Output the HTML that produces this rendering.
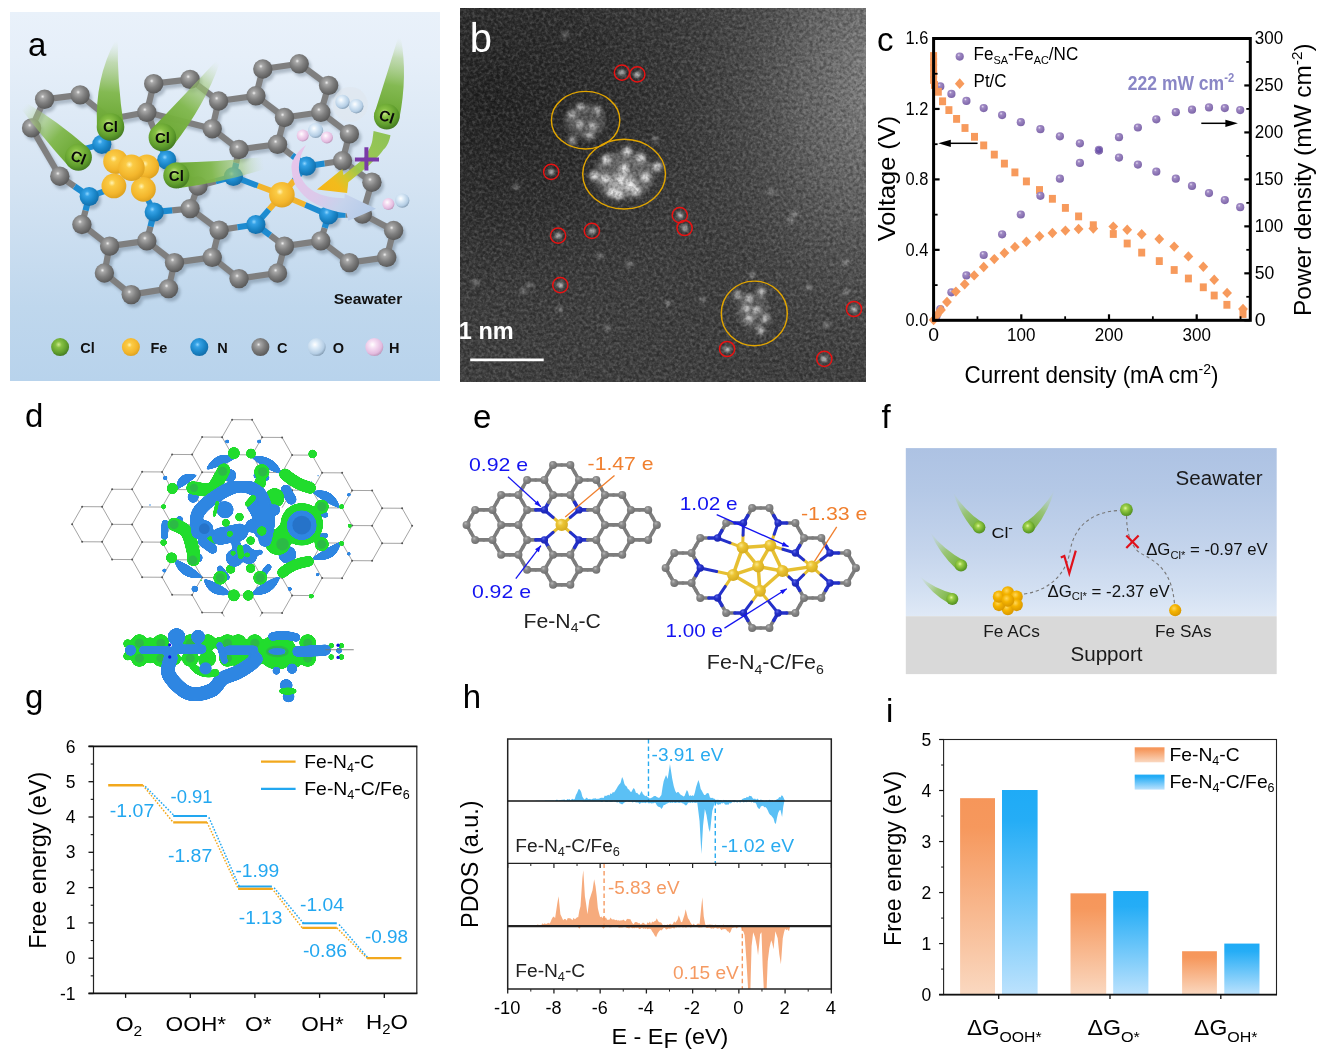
<!DOCTYPE html>
<html lang="en"><head><meta charset="utf-8"><title>Figure</title>
<style>
html,body{margin:0;padding:0;background:#fff;}
body{width:1328px;height:1064px;overflow:hidden;}
svg{display:block;font-family:'Liberation Sans', Arial, sans-serif;}
</style></head><body>
<svg width="1328" height="1064" viewBox="0 0 1328 1064">
<defs>
<linearGradient id="abg" x1="0" y1="0" x2="0" y2="1"><stop offset="0" stop-color="#e9f1fa"/><stop offset="0.12" stop-color="#e6eff9"/><stop offset="0.45" stop-color="#d5e4f3"/><stop offset="0.8" stop-color="#bfd7ed"/><stop offset="1" stop-color="#b8d3ec"/></linearGradient>
<radialGradient id="aC" cx="40%" cy="36%" r="68%"><stop offset="0" stop-color="#f0f0f0"/><stop offset="0.15" stop-color="#a8a8a8"/><stop offset="0.5" stop-color="#808080"/><stop offset="1" stop-color="#555555"/></radialGradient>
<radialGradient id="aN" cx="40%" cy="36%" r="68%"><stop offset="0" stop-color="#8fd6ff"/><stop offset="0.2" stop-color="#35a2e6"/><stop offset="0.6" stop-color="#1a86c8"/><stop offset="1" stop-color="#116aa6"/></radialGradient>
<radialGradient id="aFe" cx="42%" cy="38%" r="68%"><stop offset="0" stop-color="#fff4b4"/><stop offset="0.2" stop-color="#fbcb45"/><stop offset="0.65" stop-color="#f3b62c"/><stop offset="1" stop-color="#d89c1c"/></radialGradient>
<radialGradient id="aCl" cx="42%" cy="36%" r="68%"><stop offset="0" stop-color="#cfe98f"/><stop offset="0.25" stop-color="#86c043"/><stop offset="0.7" stop-color="#5e9c2c"/><stop offset="1" stop-color="#3f7420"/></radialGradient>
<radialGradient id="aO" cx="40%" cy="36%" r="68%"><stop offset="0" stop-color="#ffffff"/><stop offset="0.3" stop-color="#dcebf8"/><stop offset="0.75" stop-color="#b4cde4"/><stop offset="1" stop-color="#7d95ab"/></radialGradient>
<radialGradient id="aH" cx="40%" cy="36%" r="68%"><stop offset="0" stop-color="#ffffff"/><stop offset="0.3" stop-color="#f6def3"/><stop offset="0.75" stop-color="#e3bbdf"/><stop offset="1" stop-color="#b791b4"/></radialGradient>
<filter id="ash" x="-30%" y="-30%" width="160%" height="160%"><feGaussianBlur stdDeviation="1.6"/></filter>
<linearGradient id="at1" x1="110.5" y1="127" x2="116.5" y2="41" gradientUnits="userSpaceOnUse"><stop offset="0" stop-color="#68a52f" stop-opacity="1"/><stop offset="0.4" stop-color="#7fb74a" stop-opacity="0.95"/><stop offset="0.75" stop-color="#a3c97a" stop-opacity="0.55"/><stop offset="1" stop-color="#cfe3bf" stop-opacity="0.0"/></linearGradient>
<linearGradient id="at2" x1="162.4" y1="137.4" x2="218" y2="62" gradientUnits="userSpaceOnUse"><stop offset="0" stop-color="#68a52f" stop-opacity="1"/><stop offset="0.4" stop-color="#7fb74a" stop-opacity="0.95"/><stop offset="0.75" stop-color="#a3c97a" stop-opacity="0.55"/><stop offset="1" stop-color="#cfe3bf" stop-opacity="0.0"/></linearGradient>
<linearGradient id="at3" x1="78.4" y1="157.3" x2="24" y2="106" gradientUnits="userSpaceOnUse"><stop offset="0" stop-color="#68a52f" stop-opacity="1"/><stop offset="0.4" stop-color="#7fb74a" stop-opacity="0.95"/><stop offset="0.75" stop-color="#a3c97a" stop-opacity="0.55"/><stop offset="1" stop-color="#cfe3bf" stop-opacity="0.0"/></linearGradient>
<linearGradient id="at4" x1="176.3" y1="175.5" x2="264" y2="163" gradientUnits="userSpaceOnUse"><stop offset="0" stop-color="#68a52f" stop-opacity="1"/><stop offset="0.4" stop-color="#7fb74a" stop-opacity="0.95"/><stop offset="0.75" stop-color="#a3c97a" stop-opacity="0.55"/><stop offset="1" stop-color="#cfe3bf" stop-opacity="0.0"/></linearGradient>
<linearGradient id="at5" x1="386.7" y1="116.6" x2="399.5" y2="38" gradientUnits="userSpaceOnUse"><stop offset="0" stop-color="#68a52f" stop-opacity="1"/><stop offset="0.4" stop-color="#7fb74a" stop-opacity="0.95"/><stop offset="0.75" stop-color="#a3c97a" stop-opacity="0.55"/><stop offset="1" stop-color="#cfe3bf" stop-opacity="0.0"/></linearGradient>
<linearGradient id="aar" x1="385" y1="132" x2="318" y2="190" gradientUnits="userSpaceOnUse"><stop offset="0" stop-color="#8cc152" stop-opacity="0.97"/><stop offset="0.5" stop-color="#9cc84c" stop-opacity="0.97"/><stop offset="0.68" stop-color="#d6c62c" stop-opacity="1"/><stop offset="0.8" stop-color="#f2bb1c" stop-opacity="1"/><stop offset="1" stop-color="#f5b61a" stop-opacity="1"/></linearGradient>
<linearGradient id="acv" x1="300" y1="145" x2="376" y2="209" gradientUnits="userSpaceOnUse"><stop offset="0" stop-color="#e9c4ea" stop-opacity="1"/><stop offset="0.45" stop-color="#dcc9ea" stop-opacity="1"/><stop offset="0.7" stop-color="#c6d3ec" stop-opacity="1"/><stop offset="1" stop-color="#b4cbe9" stop-opacity="1"/></linearGradient>
<clipPath id="bclip"><rect x="460" y="8" width="406" height="374"/></clipPath>
<filter id="bnoise" x="0" y="0" width="100%" height="100%" color-interpolation-filters="sRGB"><feTurbulence type="fractalNoise" baseFrequency="0.33" numOctaves="2" seed="7" result="n"/><feColorMatrix type="matrix" values="0 0 0 0 1  0 0 0 0 1  0 0 0 0 1  2.6 0 0 0 -1.0"/></filter>
<filter id="bnoise2" x="0" y="0" width="100%" height="100%" color-interpolation-filters="sRGB"><feTurbulence type="fractalNoise" baseFrequency="0.3" numOctaves="2" seed="23" result="n"/><feColorMatrix type="matrix" values="0 0 0 0 0  0 0 0 0 0  0 0 0 0 0  0 2.6 0 0 -1.0"/></filter>
<filter id="bblur" x="-50%" y="-50%" width="200%" height="200%"><feGaussianBlur stdDeviation="2.2"/></filter>
<filter id="bblur2" x="-50%" y="-50%" width="200%" height="200%"><feGaussianBlur stdDeviation="1.4"/></filter>
<radialGradient id="bg1" cx="1.04" cy="0.2" r="0.52" gradientTransform="translate(0 0.2) scale(1 1.7) translate(0 -0.2)"><stop offset="0" stop-color="#8c8c8c"/><stop offset="0.4" stop-color="#707070" stop-opacity="0.72"/><stop offset="1" stop-color="#444" stop-opacity="0"/></radialGradient>
<radialGradient id="bg2" cx="0.08" cy="0.25" r="0.62"><stop offset="0" stop-color="#1c1c1c" stop-opacity="0.85"/><stop offset="0.5" stop-color="#222" stop-opacity="0.55"/><stop offset="1" stop-color="#333" stop-opacity="0"/></radialGradient>
<radialGradient id="gpur" cx="38%" cy="32%" r="70%"><stop offset="0" stop-color="#e6def2"/><stop offset="0.25" stop-color="#a08ac4"/><stop offset="1" stop-color="#7c64a8"/></radialGradient>
<filter id="goo" x="-5%" y="-5%" width="110%" height="110%" color-interpolation-filters="sRGB"><feGaussianBlur stdDeviation="1.1" result="b"/><feColorMatrix in="b" type="matrix" values="1 0 0 0 0  0 1 0 0 0  0 0 1 0 0  0 0 0 9 -3.0"/></filter>
<clipPath id="dclip"><rect x="60" y="410" width="370" height="206.5"/></clipPath>
<radialGradient id="gC" cx="38%" cy="32%" r="70%"><stop offset="0" stop-color="#b4b4b4"/><stop offset="0.35" stop-color="#8a8a8a"/><stop offset="1" stop-color="#6e6e6e"/></radialGradient>
<radialGradient id="gN" cx="38%" cy="32%" r="70%"><stop offset="0" stop-color="#5a66e8"/><stop offset="0.4" stop-color="#2430c8"/><stop offset="1" stop-color="#1a24b0"/></radialGradient>
<radialGradient id="gFe" cx="38%" cy="32%" r="70%"><stop offset="0" stop-color="#fbe88a"/><stop offset="0.35" stop-color="#ecc534"/><stop offset="1" stop-color="#d4aa1e"/></radialGradient>
<linearGradient id="fbg" x1="0" y1="0" x2="0" y2="1"><stop offset="0" stop-color="#adc2e3"/><stop offset="0.25" stop-color="#b4c8e6"/><stop offset="0.6" stop-color="#c4d4ec"/><stop offset="0.85" stop-color="#d3e0f2"/><stop offset="1" stop-color="#dfe9f6"/></linearGradient>
<radialGradient id="fgr" cx="42%" cy="38%" r="65%"><stop offset="0" stop-color="#e2f5a0"/><stop offset="0.25" stop-color="#9fd24a"/><stop offset="0.7" stop-color="#6aa82c"/><stop offset="1" stop-color="#4f8a20"/></radialGradient>
<radialGradient id="fau" cx="40%" cy="35%" r="70%"><stop offset="0" stop-color="#ffd75a"/><stop offset="0.4" stop-color="#f5b400"/><stop offset="1" stop-color="#d49300"/></radialGradient>
<linearGradient id="fc1" x1="979.2" y1="527.3" x2="953" y2="492" gradientUnits="userSpaceOnUse"><stop offset="0" stop-color="#6fae30" stop-opacity="0.95"/><stop offset="0.45" stop-color="#8cc050" stop-opacity="0.75"/><stop offset="1" stop-color="#b9d7a0" stop-opacity="0.0"/></linearGradient>
<linearGradient id="fc2" x1="1028.6" y1="527.3" x2="1054.5" y2="490" gradientUnits="userSpaceOnUse"><stop offset="0" stop-color="#6fae30" stop-opacity="0.95"/><stop offset="0.45" stop-color="#8cc050" stop-opacity="0.75"/><stop offset="1" stop-color="#b9d7a0" stop-opacity="0.0"/></linearGradient>
<linearGradient id="fc3" x1="961" y1="565.4" x2="930" y2="532" gradientUnits="userSpaceOnUse"><stop offset="0" stop-color="#6fae30" stop-opacity="0.95"/><stop offset="0.45" stop-color="#8cc050" stop-opacity="0.75"/><stop offset="1" stop-color="#b9d7a0" stop-opacity="0.0"/></linearGradient>
<linearGradient id="fc4" x1="952.3" y1="598.9" x2="919.5" y2="576" gradientUnits="userSpaceOnUse"><stop offset="0" stop-color="#6fae30" stop-opacity="0.95"/><stop offset="0.45" stop-color="#8cc050" stop-opacity="0.75"/><stop offset="1" stop-color="#b9d7a0" stop-opacity="0.0"/></linearGradient>
<linearGradient id="gor" x1="0" y1="0" x2="0" y2="1"><stop offset="0" stop-color="#f6965a"/><stop offset="0.15" stop-color="#f6985d"/><stop offset="1" stop-color="#fad8c0"/></linearGradient>
<linearGradient id="gbl" x1="0" y1="0" x2="0" y2="1"><stop offset="0" stop-color="#1fabf6"/><stop offset="0.15" stop-color="#25adf6"/><stop offset="1" stop-color="#bce2fd"/></linearGradient>
</defs>
<g id="panel_a">
<rect x="10" y="12" width="430" height="369" fill="url(#abg)"/>
<g filter="url(#ash)" opacity="0.35" transform="translate(2.5 3.5)">
<line x1="44.6" y1="99.3" x2="80.1" y2="94.9" stroke="#4a5a6a" stroke-width="6"/>
<line x1="44.6" y1="99.3" x2="31.6" y2="127.9" stroke="#4a5a6a" stroke-width="6"/>
<line x1="31.6" y1="127.9" x2="59.8" y2="176.2" stroke="#4a5a6a" stroke-width="6"/>
<line x1="80.1" y1="94.9" x2="110" y2="119" stroke="#4a5a6a" stroke-width="6"/>
<line x1="110" y1="119" x2="146.8" y2="112.3" stroke="#4a5a6a" stroke-width="6"/>
<line x1="153.7" y1="83.7" x2="190.1" y2="79.4" stroke="#4a5a6a" stroke-width="6"/>
<line x1="153.7" y1="83.7" x2="146.8" y2="112.3" stroke="#4a5a6a" stroke-width="6"/>
<line x1="190.1" y1="79.4" x2="218.6" y2="101" stroke="#4a5a6a" stroke-width="6"/>
<line x1="218.6" y1="101" x2="212.2" y2="128.7" stroke="#4a5a6a" stroke-width="6"/>
<line x1="218.6" y1="101" x2="255.9" y2="95.8" stroke="#4a5a6a" stroke-width="6"/>
<line x1="146.8" y1="112.3" x2="212.2" y2="128.7" stroke="#4a5a6a" stroke-width="6"/>
<line x1="212.2" y1="128.7" x2="239" y2="149.5" stroke="#4a5a6a" stroke-width="6"/>
<line x1="262.8" y1="69" x2="299.2" y2="63.8" stroke="#4a5a6a" stroke-width="6"/>
<line x1="262.8" y1="69" x2="255.9" y2="95.8" stroke="#4a5a6a" stroke-width="6"/>
<line x1="299.2" y1="63.8" x2="328.6" y2="85.4" stroke="#4a5a6a" stroke-width="6"/>
<line x1="328.6" y1="85.4" x2="320.8" y2="112.3" stroke="#4a5a6a" stroke-width="6"/>
<line x1="284.5" y1="117.5" x2="320.8" y2="112.3" stroke="#4a5a6a" stroke-width="6"/>
<line x1="255.9" y1="95.8" x2="284.5" y2="117.5" stroke="#4a5a6a" stroke-width="6"/>
<line x1="284.5" y1="117.5" x2="277.5" y2="144.3" stroke="#4a5a6a" stroke-width="6"/>
<line x1="277.5" y1="144.3" x2="239" y2="149.5" stroke="#4a5a6a" stroke-width="6"/>
<line x1="320.8" y1="112.3" x2="349.4" y2="133.9" stroke="#4a5a6a" stroke-width="6"/>
<line x1="349.4" y1="133.9" x2="342.5" y2="160.8" stroke="#4a5a6a" stroke-width="6"/>
<line x1="342.5" y1="160.8" x2="371.9" y2="182.2" stroke="#4a5a6a" stroke-width="6"/>
<line x1="371.9" y1="182.2" x2="362.4" y2="214.1" stroke="#4a5a6a" stroke-width="6"/>
<line x1="362.4" y1="214.1" x2="393.6" y2="230.5" stroke="#4a5a6a" stroke-width="6"/>
<line x1="393.6" y1="230.5" x2="386.7" y2="257.4" stroke="#4a5a6a" stroke-width="6"/>
<line x1="386.7" y1="257.4" x2="349.4" y2="262.6" stroke="#4a5a6a" stroke-width="6"/>
<line x1="349.4" y1="262.6" x2="320.8" y2="240.9" stroke="#4a5a6a" stroke-width="6"/>
<line x1="320.8" y1="240.9" x2="284.5" y2="246.1" stroke="#4a5a6a" stroke-width="6"/>
<line x1="284.5" y1="246.1" x2="277.5" y2="273" stroke="#4a5a6a" stroke-width="6"/>
<line x1="277.5" y1="273" x2="239" y2="278.6" stroke="#4a5a6a" stroke-width="6"/>
<line x1="239" y1="278.6" x2="212.2" y2="257.4" stroke="#4a5a6a" stroke-width="6"/>
<line x1="212.2" y1="257.4" x2="219.1" y2="230.1" stroke="#4a5a6a" stroke-width="6"/>
<line x1="219.1" y1="230.1" x2="190.1" y2="208.6" stroke="#4a5a6a" stroke-width="6"/>
<line x1="190.1" y1="208.6" x2="198" y2="186" stroke="#4a5a6a" stroke-width="6"/>
<line x1="81.9" y1="224.5" x2="109.6" y2="246.1" stroke="#4a5a6a" stroke-width="6"/>
<line x1="109.6" y1="246.1" x2="146.8" y2="240.9" stroke="#4a5a6a" stroke-width="6"/>
<line x1="109.6" y1="246.1" x2="104.4" y2="273" stroke="#4a5a6a" stroke-width="6"/>
<line x1="104.4" y1="273" x2="131.2" y2="294.6" stroke="#4a5a6a" stroke-width="6"/>
<line x1="131.2" y1="294.6" x2="168.5" y2="288.6" stroke="#4a5a6a" stroke-width="6"/>
<line x1="168.5" y1="288.6" x2="174.5" y2="262.6" stroke="#4a5a6a" stroke-width="6"/>
<line x1="174.5" y1="262.6" x2="146.8" y2="240.9" stroke="#4a5a6a" stroke-width="6"/>
<line x1="174.5" y1="262.6" x2="212.2" y2="257.4" stroke="#4a5a6a" stroke-width="6"/>
<circle cx="44.6" cy="99.3" r="9.5" fill="#4a5a6a"/>
<circle cx="80.1" cy="94.9" r="9.5" fill="#4a5a6a"/>
<circle cx="31.6" cy="127.9" r="9.5" fill="#4a5a6a"/>
<circle cx="59.8" cy="176.2" r="9.5" fill="#4a5a6a"/>
<circle cx="153.7" cy="83.7" r="9.5" fill="#4a5a6a"/>
<circle cx="190.1" cy="79.4" r="9.5" fill="#4a5a6a"/>
<circle cx="146.8" cy="112.3" r="9.5" fill="#4a5a6a"/>
<circle cx="218.6" cy="101" r="9.5" fill="#4a5a6a"/>
<circle cx="212.2" cy="128.7" r="9.5" fill="#4a5a6a"/>
<circle cx="239" cy="149.5" r="9.5" fill="#4a5a6a"/>
<circle cx="190.1" cy="208.6" r="9.5" fill="#4a5a6a"/>
<circle cx="262.8" cy="69" r="9.5" fill="#4a5a6a"/>
<circle cx="299.2" cy="63.8" r="9.5" fill="#4a5a6a"/>
<circle cx="255.9" cy="95.8" r="9.5" fill="#4a5a6a"/>
<circle cx="328.6" cy="85.4" r="9.5" fill="#4a5a6a"/>
<circle cx="284.5" cy="117.5" r="9.5" fill="#4a5a6a"/>
<circle cx="320.8" cy="112.3" r="9.5" fill="#4a5a6a"/>
<circle cx="277.5" cy="144.3" r="9.5" fill="#4a5a6a"/>
<circle cx="349.4" cy="133.9" r="9.5" fill="#4a5a6a"/>
<circle cx="342.5" cy="160.8" r="9.5" fill="#4a5a6a"/>
<circle cx="371.9" cy="182.2" r="9.5" fill="#4a5a6a"/>
<circle cx="219.1" cy="230.1" r="9.5" fill="#4a5a6a"/>
<circle cx="284.5" cy="246.1" r="9.5" fill="#4a5a6a"/>
<circle cx="320.8" cy="240.9" r="9.5" fill="#4a5a6a"/>
<circle cx="212.2" cy="257.4" r="9.5" fill="#4a5a6a"/>
<circle cx="239" cy="278.6" r="9.5" fill="#4a5a6a"/>
<circle cx="277.5" cy="273" r="9.5" fill="#4a5a6a"/>
<circle cx="349.4" cy="262.6" r="9.5" fill="#4a5a6a"/>
<circle cx="386.7" cy="257.4" r="9.5" fill="#4a5a6a"/>
<circle cx="393.6" cy="230.5" r="9.5" fill="#4a5a6a"/>
<circle cx="362.4" cy="214.1" r="9.5" fill="#4a5a6a"/>
<circle cx="81.9" cy="224.5" r="9.5" fill="#4a5a6a"/>
<circle cx="109.6" cy="246.1" r="9.5" fill="#4a5a6a"/>
<circle cx="146.8" cy="240.9" r="9.5" fill="#4a5a6a"/>
<circle cx="104.4" cy="273" r="9.5" fill="#4a5a6a"/>
<circle cx="131.2" cy="294.6" r="9.5" fill="#4a5a6a"/>
<circle cx="168.5" cy="288.6" r="9.5" fill="#4a5a6a"/>
<circle cx="174.5" cy="262.6" r="9.5" fill="#4a5a6a"/>
<circle cx="198" cy="186" r="9.5" fill="#4a5a6a"/>
<circle cx="110" cy="119" r="9.5" fill="#4a5a6a"/>
<circle cx="101.8" cy="144.3" r="9.5" fill="#4a5a6a"/>
<circle cx="166.7" cy="159.9" r="9.5" fill="#4a5a6a"/>
<circle cx="89.2" cy="196.5" r="9.5" fill="#4a5a6a"/>
<circle cx="154.2" cy="212" r="9.5" fill="#4a5a6a"/>
<circle cx="233.4" cy="176.5" r="9.5" fill="#4a5a6a"/>
<circle cx="306.5" cy="166.2" r="9.5" fill="#4a5a6a"/>
<circle cx="255.9" cy="224.5" r="9.5" fill="#4a5a6a"/>
<circle cx="328.6" cy="215" r="9.5" fill="#4a5a6a"/>
</g>
<line x1="44.6" y1="99.3" x2="80.1" y2="94.9" stroke="#7f7f7f" stroke-width="6.2"/>
<line x1="44.6" y1="99.3" x2="31.6" y2="127.9" stroke="#7f7f7f" stroke-width="6.2"/>
<line x1="31.6" y1="127.9" x2="59.8" y2="176.2" stroke="#7f7f7f" stroke-width="6.2"/>
<line x1="80.1" y1="94.9" x2="110" y2="119" stroke="#7f7f7f" stroke-width="6.2"/>
<line x1="110" y1="119" x2="146.8" y2="112.3" stroke="#7f7f7f" stroke-width="6.2"/>
<line x1="153.7" y1="83.7" x2="190.1" y2="79.4" stroke="#7f7f7f" stroke-width="6.2"/>
<line x1="153.7" y1="83.7" x2="146.8" y2="112.3" stroke="#7f7f7f" stroke-width="6.2"/>
<line x1="190.1" y1="79.4" x2="218.6" y2="101" stroke="#7f7f7f" stroke-width="6.2"/>
<line x1="218.6" y1="101" x2="212.2" y2="128.7" stroke="#7f7f7f" stroke-width="6.2"/>
<line x1="218.6" y1="101" x2="255.9" y2="95.8" stroke="#7f7f7f" stroke-width="6.2"/>
<line x1="146.8" y1="112.3" x2="212.2" y2="128.7" stroke="#7f7f7f" stroke-width="6.2"/>
<line x1="212.2" y1="128.7" x2="239" y2="149.5" stroke="#7f7f7f" stroke-width="6.2"/>
<line x1="262.8" y1="69" x2="299.2" y2="63.8" stroke="#7f7f7f" stroke-width="6.2"/>
<line x1="262.8" y1="69" x2="255.9" y2="95.8" stroke="#7f7f7f" stroke-width="6.2"/>
<line x1="299.2" y1="63.8" x2="328.6" y2="85.4" stroke="#7f7f7f" stroke-width="6.2"/>
<line x1="328.6" y1="85.4" x2="320.8" y2="112.3" stroke="#7f7f7f" stroke-width="6.2"/>
<line x1="284.5" y1="117.5" x2="320.8" y2="112.3" stroke="#7f7f7f" stroke-width="6.2"/>
<line x1="255.9" y1="95.8" x2="284.5" y2="117.5" stroke="#7f7f7f" stroke-width="6.2"/>
<line x1="284.5" y1="117.5" x2="277.5" y2="144.3" stroke="#7f7f7f" stroke-width="6.2"/>
<line x1="277.5" y1="144.3" x2="239" y2="149.5" stroke="#7f7f7f" stroke-width="6.2"/>
<line x1="320.8" y1="112.3" x2="349.4" y2="133.9" stroke="#7f7f7f" stroke-width="6.2"/>
<line x1="349.4" y1="133.9" x2="342.5" y2="160.8" stroke="#7f7f7f" stroke-width="6.2"/>
<line x1="342.5" y1="160.8" x2="371.9" y2="182.2" stroke="#7f7f7f" stroke-width="6.2"/>
<line x1="371.9" y1="182.2" x2="362.4" y2="214.1" stroke="#7f7f7f" stroke-width="6.2"/>
<line x1="362.4" y1="214.1" x2="393.6" y2="230.5" stroke="#7f7f7f" stroke-width="6.2"/>
<line x1="393.6" y1="230.5" x2="386.7" y2="257.4" stroke="#7f7f7f" stroke-width="6.2"/>
<line x1="386.7" y1="257.4" x2="349.4" y2="262.6" stroke="#7f7f7f" stroke-width="6.2"/>
<line x1="349.4" y1="262.6" x2="320.8" y2="240.9" stroke="#7f7f7f" stroke-width="6.2"/>
<line x1="320.8" y1="240.9" x2="284.5" y2="246.1" stroke="#7f7f7f" stroke-width="6.2"/>
<line x1="284.5" y1="246.1" x2="277.5" y2="273" stroke="#7f7f7f" stroke-width="6.2"/>
<line x1="277.5" y1="273" x2="239" y2="278.6" stroke="#7f7f7f" stroke-width="6.2"/>
<line x1="239" y1="278.6" x2="212.2" y2="257.4" stroke="#7f7f7f" stroke-width="6.2"/>
<line x1="212.2" y1="257.4" x2="219.1" y2="230.1" stroke="#7f7f7f" stroke-width="6.2"/>
<line x1="219.1" y1="230.1" x2="190.1" y2="208.6" stroke="#7f7f7f" stroke-width="6.2"/>
<line x1="190.1" y1="208.6" x2="198" y2="186" stroke="#7f7f7f" stroke-width="6.2"/>
<line x1="81.9" y1="224.5" x2="109.6" y2="246.1" stroke="#7f7f7f" stroke-width="6.2"/>
<line x1="109.6" y1="246.1" x2="146.8" y2="240.9" stroke="#7f7f7f" stroke-width="6.2"/>
<line x1="109.6" y1="246.1" x2="104.4" y2="273" stroke="#7f7f7f" stroke-width="6.2"/>
<line x1="104.4" y1="273" x2="131.2" y2="294.6" stroke="#7f7f7f" stroke-width="6.2"/>
<line x1="131.2" y1="294.6" x2="168.5" y2="288.6" stroke="#7f7f7f" stroke-width="6.2"/>
<line x1="168.5" y1="288.6" x2="174.5" y2="262.6" stroke="#7f7f7f" stroke-width="6.2"/>
<line x1="174.5" y1="262.6" x2="146.8" y2="240.9" stroke="#7f7f7f" stroke-width="6.2"/>
<line x1="174.5" y1="262.6" x2="212.2" y2="257.4" stroke="#7f7f7f" stroke-width="6.2"/>
<line x1="110" y1="119" x2="105.9" y2="131.65" stroke="#7f7f7f" stroke-width="6.2"/>
<line x1="105.9" y1="131.65" x2="101.8" y2="144.3" stroke="#1d8bd0" stroke-width="6.2"/>
<line x1="59.8" y1="176.2" x2="74.5" y2="186.35" stroke="#7f7f7f" stroke-width="6.2"/>
<line x1="74.5" y1="186.35" x2="89.2" y2="196.5" stroke="#1d8bd0" stroke-width="6.2"/>
<line x1="81.9" y1="224.5" x2="85.55" y2="210.5" stroke="#7f7f7f" stroke-width="6.2"/>
<line x1="85.55" y1="210.5" x2="89.2" y2="196.5" stroke="#1d8bd0" stroke-width="6.2"/>
<line x1="146.8" y1="240.9" x2="150.5" y2="226.45" stroke="#7f7f7f" stroke-width="6.2"/>
<line x1="150.5" y1="226.45" x2="154.2" y2="212" stroke="#1d8bd0" stroke-width="6.2"/>
<line x1="190.1" y1="208.6" x2="172.15" y2="210.3" stroke="#7f7f7f" stroke-width="6.2"/>
<line x1="172.15" y1="210.3" x2="154.2" y2="212" stroke="#1d8bd0" stroke-width="6.2"/>
<line x1="146.8" y1="112.3" x2="156.75" y2="136.1" stroke="#7f7f7f" stroke-width="6.2"/>
<line x1="156.75" y1="136.1" x2="166.7" y2="159.9" stroke="#1d8bd0" stroke-width="6.2"/>
<line x1="198" y1="186" x2="182.35" y2="172.95" stroke="#7f7f7f" stroke-width="6.2"/>
<line x1="182.35" y1="172.95" x2="166.7" y2="159.9" stroke="#1d8bd0" stroke-width="6.2"/>
<line x1="239" y1="149.5" x2="236.2" y2="163" stroke="#7f7f7f" stroke-width="6.2"/>
<line x1="236.2" y1="163" x2="233.4" y2="176.5" stroke="#1d8bd0" stroke-width="6.2"/>
<line x1="198" y1="186" x2="215.7" y2="181.25" stroke="#7f7f7f" stroke-width="6.2"/>
<line x1="215.7" y1="181.25" x2="233.4" y2="176.5" stroke="#1d8bd0" stroke-width="6.2"/>
<line x1="277.5" y1="144.3" x2="292" y2="155.25" stroke="#7f7f7f" stroke-width="6.2"/>
<line x1="292" y1="155.25" x2="306.5" y2="166.2" stroke="#1d8bd0" stroke-width="6.2"/>
<line x1="342.5" y1="160.8" x2="324.5" y2="163.5" stroke="#7f7f7f" stroke-width="6.2"/>
<line x1="324.5" y1="163.5" x2="306.5" y2="166.2" stroke="#1d8bd0" stroke-width="6.2"/>
<line x1="219.1" y1="230.1" x2="237.5" y2="227.3" stroke="#7f7f7f" stroke-width="6.2"/>
<line x1="237.5" y1="227.3" x2="255.9" y2="224.5" stroke="#1d8bd0" stroke-width="6.2"/>
<line x1="284.5" y1="246.1" x2="270.2" y2="235.3" stroke="#7f7f7f" stroke-width="6.2"/>
<line x1="270.2" y1="235.3" x2="255.9" y2="224.5" stroke="#1d8bd0" stroke-width="6.2"/>
<line x1="320.8" y1="240.9" x2="324.7" y2="227.95" stroke="#7f7f7f" stroke-width="6.2"/>
<line x1="324.7" y1="227.95" x2="328.6" y2="215" stroke="#1d8bd0" stroke-width="6.2"/>
<line x1="362.4" y1="214.1" x2="345.5" y2="214.55" stroke="#7f7f7f" stroke-width="6.2"/>
<line x1="345.5" y1="214.55" x2="328.6" y2="215" stroke="#1d8bd0" stroke-width="6.2"/>
<line x1="281.9" y1="194.8" x2="257.65" y2="185.65" stroke="#f2b42c" stroke-width="5.8"/>
<line x1="257.65" y1="185.65" x2="233.4" y2="176.5" stroke="#1d8bd0" stroke-width="5.8"/>
<line x1="281.9" y1="194.8" x2="294.2" y2="180.5" stroke="#f2b42c" stroke-width="5.8"/>
<line x1="294.2" y1="180.5" x2="306.5" y2="166.2" stroke="#1d8bd0" stroke-width="5.8"/>
<line x1="281.9" y1="194.8" x2="268.9" y2="209.65" stroke="#f2b42c" stroke-width="5.8"/>
<line x1="268.9" y1="209.65" x2="255.9" y2="224.5" stroke="#1d8bd0" stroke-width="5.8"/>
<line x1="281.9" y1="194.8" x2="305.25" y2="204.9" stroke="#f2b42c" stroke-width="5.8"/>
<line x1="305.25" y1="204.9" x2="328.6" y2="215" stroke="#1d8bd0" stroke-width="5.8"/>
<line x1="101.8" y1="144.3" x2="80" y2="150" stroke="#1d8bd0" stroke-width="5.8"/>
<line x1="101.8" y1="144.3" x2="113" y2="158" stroke="#1d8bd0" stroke-width="5.8"/>
<line x1="166.7" y1="159.9" x2="150" y2="165" stroke="#1d8bd0" stroke-width="5.8"/>
<line x1="89.2" y1="196.5" x2="108" y2="190" stroke="#1d8bd0" stroke-width="5.8"/>
<line x1="154.2" y1="212" x2="146" y2="196" stroke="#1d8bd0" stroke-width="5.8"/>
<circle cx="44.6" cy="99.3" r="9.7" fill="url(#aC)"/>
<circle cx="80.1" cy="94.9" r="9.7" fill="url(#aC)"/>
<circle cx="31.6" cy="127.9" r="9.7" fill="url(#aC)"/>
<circle cx="59.8" cy="176.2" r="9.7" fill="url(#aC)"/>
<circle cx="153.7" cy="83.7" r="9.7" fill="url(#aC)"/>
<circle cx="190.1" cy="79.4" r="9.7" fill="url(#aC)"/>
<circle cx="146.8" cy="112.3" r="9.7" fill="url(#aC)"/>
<circle cx="218.6" cy="101" r="9.7" fill="url(#aC)"/>
<circle cx="212.2" cy="128.7" r="9.7" fill="url(#aC)"/>
<circle cx="239" cy="149.5" r="9.7" fill="url(#aC)"/>
<circle cx="190.1" cy="208.6" r="9.7" fill="url(#aC)"/>
<circle cx="262.8" cy="69" r="9.7" fill="url(#aC)"/>
<circle cx="299.2" cy="63.8" r="9.7" fill="url(#aC)"/>
<circle cx="255.9" cy="95.8" r="9.7" fill="url(#aC)"/>
<circle cx="328.6" cy="85.4" r="9.7" fill="url(#aC)"/>
<circle cx="284.5" cy="117.5" r="9.7" fill="url(#aC)"/>
<circle cx="320.8" cy="112.3" r="9.7" fill="url(#aC)"/>
<circle cx="277.5" cy="144.3" r="9.7" fill="url(#aC)"/>
<circle cx="349.4" cy="133.9" r="9.7" fill="url(#aC)"/>
<circle cx="342.5" cy="160.8" r="9.7" fill="url(#aC)"/>
<circle cx="371.9" cy="182.2" r="9.7" fill="url(#aC)"/>
<circle cx="219.1" cy="230.1" r="9.7" fill="url(#aC)"/>
<circle cx="284.5" cy="246.1" r="9.7" fill="url(#aC)"/>
<circle cx="320.8" cy="240.9" r="9.7" fill="url(#aC)"/>
<circle cx="212.2" cy="257.4" r="9.7" fill="url(#aC)"/>
<circle cx="239" cy="278.6" r="9.7" fill="url(#aC)"/>
<circle cx="277.5" cy="273" r="9.7" fill="url(#aC)"/>
<circle cx="349.4" cy="262.6" r="9.7" fill="url(#aC)"/>
<circle cx="386.7" cy="257.4" r="9.7" fill="url(#aC)"/>
<circle cx="393.6" cy="230.5" r="9.7" fill="url(#aC)"/>
<circle cx="362.4" cy="214.1" r="9.7" fill="url(#aC)"/>
<circle cx="81.9" cy="224.5" r="9.7" fill="url(#aC)"/>
<circle cx="109.6" cy="246.1" r="9.7" fill="url(#aC)"/>
<circle cx="146.8" cy="240.9" r="9.7" fill="url(#aC)"/>
<circle cx="104.4" cy="273" r="9.7" fill="url(#aC)"/>
<circle cx="131.2" cy="294.6" r="9.7" fill="url(#aC)"/>
<circle cx="168.5" cy="288.6" r="9.7" fill="url(#aC)"/>
<circle cx="174.5" cy="262.6" r="9.7" fill="url(#aC)"/>
<circle cx="198" cy="186" r="9.7" fill="url(#aC)"/>
<circle cx="101.8" cy="144.3" r="9.6" fill="url(#aN)"/>
<circle cx="166.7" cy="159.9" r="9.6" fill="url(#aN)"/>
<circle cx="89.2" cy="196.5" r="9.6" fill="url(#aN)"/>
<circle cx="154.2" cy="212" r="9.6" fill="url(#aN)"/>
<circle cx="233.4" cy="176.5" r="9.6" fill="url(#aN)"/>
<circle cx="306.5" cy="166.2" r="9.6" fill="url(#aN)"/>
<circle cx="255.9" cy="224.5" r="9.6" fill="url(#aN)"/>
<circle cx="328.6" cy="215" r="9.6" fill="url(#aN)"/>
<circle cx="281.9" cy="194.8" r="12.8" fill="url(#aFe)"/>
<circle cx="115.6" cy="161.6" r="12.4" fill="url(#aFe)"/>
<circle cx="146.8" cy="166.8" r="12.4" fill="url(#aFe)"/>
<circle cx="113.9" cy="185.9" r="12.4" fill="url(#aFe)"/>
<circle cx="143.4" cy="189.3" r="12.4" fill="url(#aFe)"/>
<circle cx="131.5" cy="167.7" r="13.2" fill="url(#aFe)"/>
<path d="M124.07 127.95Q116.67 79.9 118 41.1L115 40.9Q94.97 78.39 96.93 126.05Z" fill="url(#at1)"/>
<path d="M173.35 145.47Q204.96 104.76 219.61 63.19L216.39 60.81Q187.44 91.85 151.45 129.33Z" fill="url(#at2)"/>
<path d="M87.59 147.55Q56.52 120.56 26.74 103.09L21.26 108.91Q41.81 136.16 69.21 167.05Z" fill="url(#at3)"/>
<path d="M178.11 188.17Q226.4 181.73 264.85 168.94L263.15 157.06Q223.51 161.46 174.49 162.83Z" fill="url(#at4)"/>
<path d="M399.33 118.66Q407.79 75.66 400.98 38.24L398.02 37.76Q387.58 72.37 374.07 114.54Z" fill="url(#at5)"/>
<circle cx="110.5" cy="127" r="13.8" fill="url(#aCl)"/>
<text x="110.5" y="132.3" font-size="15" fill="#0a0a0a" text-anchor="middle" font-weight="bold">Cl</text>
<circle cx="162.4" cy="137.4" r="13.8" fill="url(#aCl)"/>
<text x="162.4" y="142.7" font-size="15" fill="#0a0a0a" text-anchor="middle" font-weight="bold">Cl</text>
<circle cx="78.4" cy="157.3" r="13.5" fill="url(#aCl)"/>
<text x="78.4" y="162.6" font-size="15" fill="#0a0a0a" text-anchor="middle" font-weight="bold" transform="rotate(22 78.4 157.3)">Cl</text>
<circle cx="176.3" cy="175.5" r="13" fill="url(#aCl)"/>
<text x="176.3" y="180.8" font-size="15" fill="#0a0a0a" text-anchor="middle" font-weight="bold">Cl</text>
<circle cx="386.7" cy="116.6" r="12.8" fill="url(#aCl)"/>
<text x="386.7" y="121.9" font-size="15" fill="#0a0a0a" text-anchor="middle" font-weight="bold" transform="rotate(18 386.7 116.6)">Cl</text>
<path d="M373.6 131.1L390.5 135.3C389 143 386.5 147 383.3 149.8C381 153.5 378.5 156 376 158.2L368.8 165.4L348.3 182.3L347.1 193.1L317 189.5L342.3 169L343.5 175.1L361.6 160.6C364.5 157.5 366.5 154.5 368.2 151C370.5 147 372 143.5 372.4 140.1Z" fill="url(#aar)"/>
<path d="M354.9 159.4H379M366.4 147.3V170.4" fill="none" stroke="#7a3aa8" stroke-width="4"/>
<circle cx="350.3" cy="104.5" r="17.5" fill="#dfe7ee" opacity="0.65"/>
<circle cx="342.5" cy="101.9" r="7.2" fill="url(#aO)"/>
<circle cx="356.3" cy="106.2" r="7.2" fill="url(#aO)"/>
<circle cx="315.6" cy="130.5" r="7.6" fill="url(#aO)"/>
<circle cx="302.7" cy="135.6" r="6" fill="url(#aH)"/>
<circle cx="326.9" cy="137.4" r="6" fill="url(#aH)"/>
<path d="M306.1 145C296 152 290 162 291.7 170.2C292.5 178 294 184 297.7 188.3C303 196 310 201.5 318.2 205.2C328 209.5 337 212.5 346.5 213.2L348.3 220.8L376 208.8L344.7 193.8L344.5 198.2C333 198 322 196 314 191.5C305 186 300 178 299 170C298.5 162 301 153 306.1 145Z" fill="url(#acv)"/>
<circle cx="402.2" cy="200.6" r="7.2" fill="url(#aO)"/>
<circle cx="388.4" cy="204" r="6" fill="url(#aH)"/>
<text x="333.7" y="303.9" font-size="14.5" fill="#111" font-weight="bold" textLength="68.7" lengthAdjust="spacingAndGlyphs">Seawater</text>
<circle cx="60.1" cy="347.1" r="9" fill="url(#aCl)"/>
<text x="80.3" y="352.6" font-size="14.5" fill="#111" font-weight="bold">Cl</text>
<circle cx="130.9" cy="347.1" r="9" fill="url(#aFe)"/>
<text x="150.5" y="352.6" font-size="14.5" fill="#111" font-weight="bold">Fe</text>
<circle cx="199.3" cy="347.1" r="9" fill="url(#aN)"/>
<text x="217.3" y="352.6" font-size="14.5" fill="#111" font-weight="bold">N</text>
<circle cx="260.4" cy="347.1" r="9" fill="url(#aC)"/>
<text x="277" y="352.6" font-size="14.5" fill="#111" font-weight="bold">C</text>
<circle cx="316.7" cy="347.1" r="9" fill="url(#aO)"/>
<text x="332.7" y="352.6" font-size="14.5" fill="#111" font-weight="bold">O</text>
<circle cx="374.3" cy="347.1" r="9" fill="url(#aH)"/>
<text x="389" y="352.6" font-size="14.5" fill="#111" font-weight="bold">H</text>
<text x="28.1" y="55.6" font-size="33" fill="#000">a</text>
</g>
<g id="panel_b">
<g clip-path="url(#bclip)">
<rect x="460" y="8" width="406" height="374" fill="#3e3e3e"/>
<rect x="460" y="8" width="406" height="374" fill="url(#bg2)"/>
<rect x="460" y="8" width="406" height="374" fill="url(#bg1)"/>
<g filter="url(#bblur)">
<ellipse cx="585" cy="121" rx="20" ry="17" fill="#fff" opacity="0.22"/>
<ellipse cx="624" cy="175" rx="30" ry="24" fill="#fff" opacity="0.26"/>
<ellipse cx="622" cy="183" rx="14" ry="11" fill="#fff" opacity="0.38"/>
<ellipse cx="753" cy="311" rx="16" ry="18" fill="#fff" opacity="0.16"/>
<circle cx="580.6" cy="106.6" r="3.4" fill="#fff" opacity="0.75"/>
<circle cx="597.9" cy="109.6" r="3.4" fill="#fff" opacity="0.75"/>
<circle cx="571.6" cy="114.9" r="3.4" fill="#fff" opacity="0.75"/>
<circle cx="579.8" cy="124.7" r="3.4" fill="#fff" opacity="0.75"/>
<circle cx="592.6" cy="126.2" r="3.4" fill="#fff" opacity="0.75"/>
<circle cx="589.6" cy="135.9" r="3.4" fill="#fff" opacity="0.75"/>
<circle cx="572.3" cy="140.5" r="3.4" fill="#fff" opacity="0.75"/>
<circle cx="606.2" cy="159.2" r="4.2" fill="#fff" opacity="0.95"/>
<circle cx="627.2" cy="151" r="4.2" fill="#fff" opacity="0.95"/>
<circle cx="640.8" cy="157.7" r="4.2" fill="#fff" opacity="0.95"/>
<circle cx="657.3" cy="166.8" r="4.2" fill="#fff" opacity="0.95"/>
<circle cx="624.2" cy="168.3" r="4.2" fill="#fff" opacity="0.95"/>
<circle cx="594.1" cy="175.8" r="4.2" fill="#fff" opacity="0.95"/>
<circle cx="604.7" cy="178.8" r="4.2" fill="#fff" opacity="0.95"/>
<circle cx="621.2" cy="180.3" r="4.2" fill="#fff" opacity="0.95"/>
<circle cx="630.2" cy="184.8" r="4.2" fill="#fff" opacity="0.95"/>
<circle cx="645.3" cy="177.3" r="4.2" fill="#fff" opacity="0.95"/>
<circle cx="610.7" cy="192.3" r="4.2" fill="#fff" opacity="0.95"/>
<circle cx="636.2" cy="190.8" r="4.2" fill="#fff" opacity="0.95"/>
<circle cx="618.2" cy="195.3" r="4.2" fill="#fff" opacity="0.95"/>
<circle cx="737.9" cy="294.9" r="3.4" fill="#fff" opacity="0.85"/>
<circle cx="761.7" cy="291.5" r="3.4" fill="#fff" opacity="0.85"/>
<circle cx="748.9" cy="298.3" r="3.4" fill="#fff" opacity="0.85"/>
<circle cx="746.4" cy="308.5" r="3.4" fill="#fff" opacity="0.85"/>
<circle cx="756.6" cy="310.2" r="3.4" fill="#fff" opacity="0.85"/>
<circle cx="748.9" cy="318.7" r="3.4" fill="#fff" opacity="0.85"/>
<circle cx="765.9" cy="318.7" r="3.4" fill="#fff" opacity="0.85"/>
<circle cx="760.8" cy="330.6" r="3.4" fill="#fff" opacity="0.85"/>
</g>
<g filter="url(#bblur2)">
<ellipse cx="621.9" cy="72.6" rx="3.2" ry="2.6" fill="#fff" opacity="0.7"/>
<ellipse cx="637.3" cy="74.4" rx="3.2" ry="2.6" fill="#fff" opacity="0.7"/>
<ellipse cx="551.2" cy="171.9" rx="3.2" ry="2.6" fill="#fff" opacity="0.7"/>
<ellipse cx="558.1" cy="235.7" rx="3.2" ry="2.6" fill="#fff" opacity="0.7"/>
<ellipse cx="591.9" cy="230.9" rx="3.2" ry="2.6" fill="#fff" opacity="0.7"/>
<ellipse cx="679.8" cy="215.2" rx="3.2" ry="2.6" fill="#fff" opacity="0.7"/>
<ellipse cx="684.6" cy="228" rx="3.2" ry="2.6" fill="#fff" opacity="0.7"/>
<ellipse cx="560.3" cy="285.2" rx="3.2" ry="2.6" fill="#fff" opacity="0.7"/>
<ellipse cx="727.1" cy="349" rx="3.2" ry="2.6" fill="#fff" opacity="0.7"/>
<ellipse cx="824.3" cy="358.9" rx="3.2" ry="2.6" fill="#fff" opacity="0.7"/>
<ellipse cx="854" cy="309" rx="3.2" ry="2.6" fill="#fff" opacity="0.7"/>
<ellipse cx="565.5" cy="34.8" rx="3.4" ry="2.8" fill="#fff" opacity="0.32"/>
<ellipse cx="790.9" cy="220" rx="3.4" ry="2.8" fill="#fff" opacity="0.32"/>
<ellipse cx="795" cy="214" rx="3.4" ry="2.8" fill="#fff" opacity="0.32"/>
<ellipse cx="845.9" cy="262.1" rx="3.4" ry="2.8" fill="#fff" opacity="0.32"/>
<ellipse cx="475.7" cy="282.3" rx="3.4" ry="2.8" fill="#fff" opacity="0.32"/>
<ellipse cx="523.3" cy="291.4" rx="3.4" ry="2.8" fill="#fff" opacity="0.32"/>
<ellipse cx="530" cy="285" rx="3.4" ry="2.8" fill="#fff" opacity="0.32"/>
<ellipse cx="629.6" cy="263.9" rx="3.4" ry="2.8" fill="#fff" opacity="0.32"/>
<ellipse cx="771" cy="192" rx="3.4" ry="2.8" fill="#fff" opacity="0.32"/>
<ellipse cx="655" cy="139" rx="3.4" ry="2.8" fill="#fff" opacity="0.32"/>
<ellipse cx="600" cy="256" rx="3.4" ry="2.8" fill="#fff" opacity="0.32"/>
<ellipse cx="702" cy="300" rx="3.4" ry="2.8" fill="#fff" opacity="0.32"/>
<ellipse cx="809" cy="287" rx="3.4" ry="2.8" fill="#fff" opacity="0.32"/>
<ellipse cx="846" cy="292" rx="3.4" ry="2.8" fill="#fff" opacity="0.32"/>
<ellipse cx="752" cy="275" rx="3.4" ry="2.8" fill="#fff" opacity="0.32"/>
<ellipse cx="516" cy="187" rx="3.4" ry="2.8" fill="#fff" opacity="0.32"/>
<ellipse cx="826" cy="325" rx="3.4" ry="2.8" fill="#fff" opacity="0.32"/>
<ellipse cx="668" cy="303" rx="3.4" ry="2.8" fill="#fff" opacity="0.32"/>
<ellipse cx="560" cy="309" rx="3.4" ry="2.8" fill="#fff" opacity="0.32"/>
<ellipse cx="607" cy="328" rx="3.4" ry="2.8" fill="#fff" opacity="0.32"/>
</g>
<rect x="460" y="8" width="406" height="374" filter="url(#bnoise)" opacity="0.15"/>
<rect x="460" y="8" width="406" height="374" filter="url(#bnoise2)" opacity="0.27"/>
<ellipse cx="585.6" cy="120.2" rx="34.2" ry="28.8" fill="none" stroke="#e2a500" stroke-width="1.45"/>
<ellipse cx="624.1" cy="174.1" rx="41.4" ry="34.8" fill="none" stroke="#e2a500" stroke-width="1.45"/>
<ellipse cx="754.3" cy="313.4" rx="33" ry="32.3" fill="none" stroke="#e2a500" stroke-width="1.45"/>
<circle cx="621.9" cy="72.6" r="7.6" fill="none" stroke="#e81313" stroke-width="1.5"/>
<circle cx="637.3" cy="74.4" r="7.6" fill="none" stroke="#e81313" stroke-width="1.5"/>
<circle cx="551.2" cy="171.9" r="7.6" fill="none" stroke="#e81313" stroke-width="1.5"/>
<circle cx="558.1" cy="235.7" r="7.6" fill="none" stroke="#e81313" stroke-width="1.5"/>
<circle cx="591.9" cy="230.9" r="7.6" fill="none" stroke="#e81313" stroke-width="1.5"/>
<circle cx="679.8" cy="215.2" r="7.6" fill="none" stroke="#e81313" stroke-width="1.5"/>
<circle cx="684.6" cy="228" r="7.6" fill="none" stroke="#e81313" stroke-width="1.5"/>
<circle cx="560.3" cy="285.2" r="7.6" fill="none" stroke="#e81313" stroke-width="1.5"/>
<circle cx="727.1" cy="349" r="7.6" fill="none" stroke="#e81313" stroke-width="1.5"/>
<circle cx="824.3" cy="358.9" r="7.6" fill="none" stroke="#e81313" stroke-width="1.5"/>
<circle cx="854" cy="309" r="7.6" fill="none" stroke="#e81313" stroke-width="1.5"/>
<line x1="470.2" y1="359.9" x2="543.7" y2="359.9" stroke="#fff" stroke-width="2.6"/>
<text x="458.8" y="339.3" font-size="23.5" fill="#fff" font-weight="bold">1 nm</text>
<text x="469.7" y="52.2" font-size="40" fill="#fff">b</text>
</g>
</g>
<g id="panel_c">
<circle cx="940.3" cy="86.4" r="4.1" fill="url(#gpur)"/>
<circle cx="951.4" cy="93.9" r="4.1" fill="url(#gpur)"/>
<circle cx="966.4" cy="100.9" r="4.1" fill="url(#gpur)"/>
<circle cx="983.7" cy="108.1" r="4.1" fill="url(#gpur)"/>
<circle cx="1002.1" cy="115.1" r="4.1" fill="url(#gpur)"/>
<circle cx="1020.8" cy="122.2" r="4.1" fill="url(#gpur)"/>
<circle cx="1040.4" cy="129.2" r="4.1" fill="url(#gpur)"/>
<circle cx="1059.9" cy="136.3" r="4.1" fill="url(#gpur)"/>
<circle cx="1079.9" cy="143.3" r="4.1" fill="url(#gpur)"/>
<circle cx="1098.9" cy="149.9" r="4.1" fill="url(#gpur)"/>
<circle cx="1119" cy="157.6" r="4.1" fill="url(#gpur)"/>
<circle cx="1137.9" cy="164.6" r="4.1" fill="url(#gpur)"/>
<circle cx="1156.3" cy="171.7" r="4.1" fill="url(#gpur)"/>
<circle cx="1175.8" cy="178.7" r="4.1" fill="url(#gpur)"/>
<circle cx="1192" cy="185.9" r="4.1" fill="url(#gpur)"/>
<circle cx="1209" cy="193.1" r="4.1" fill="url(#gpur)"/>
<circle cx="1224.8" cy="200.1" r="4.1" fill="url(#gpur)"/>
<circle cx="1240.2" cy="207.2" r="4.1" fill="url(#gpur)"/>
<rect x="930.1" y="52.1" width="7" height="7.8" fill="#f79a5c"/>
<rect x="930.1" y="58.1" width="7" height="7.8" fill="#f79a5c"/>
<rect x="930.1" y="64.1" width="7" height="7.8" fill="#f79a5c"/>
<rect x="930.1" y="70.1" width="7" height="7.8" fill="#f79a5c"/>
<rect x="930.1" y="76.1" width="7" height="7.8" fill="#f79a5c"/>
<rect x="931" y="81.1" width="7" height="7.8" fill="#f79a5c"/>
<rect x="934.8" y="87.9" width="7" height="7.8" fill="#f79a5c"/>
<rect x="939.1" y="97.4" width="7" height="7.8" fill="#f79a5c"/>
<rect x="945.4" y="106.2" width="7" height="7.8" fill="#f79a5c"/>
<rect x="953.1" y="115" width="7" height="7.8" fill="#f79a5c"/>
<rect x="961.5" y="124.1" width="7" height="7.8" fill="#f79a5c"/>
<rect x="971" y="132.9" width="7" height="7.8" fill="#f79a5c"/>
<rect x="980.2" y="141.5" width="7" height="7.8" fill="#f79a5c"/>
<rect x="990.8" y="150.7" width="7" height="7.8" fill="#f79a5c"/>
<rect x="1000.9" y="159.7" width="7" height="7.8" fill="#f79a5c"/>
<rect x="1011.4" y="168.5" width="7" height="7.8" fill="#f79a5c"/>
<rect x="1022.9" y="177.5" width="7" height="7.8" fill="#f79a5c"/>
<rect x="1036" y="186.1" width="7" height="7.8" fill="#f79a5c"/>
<rect x="1048.9" y="194.9" width="7" height="7.8" fill="#f79a5c"/>
<rect x="1061.9" y="204" width="7" height="7.8" fill="#f79a5c"/>
<rect x="1075.1" y="212.5" width="7" height="7.8" fill="#f79a5c"/>
<rect x="1089.8" y="221.3" width="7" height="7.8" fill="#f79a5c"/>
<rect x="1109.8" y="230.1" width="7" height="7.8" fill="#f79a5c"/>
<rect x="1123.7" y="239.6" width="7" height="7.8" fill="#f79a5c"/>
<rect x="1138.2" y="248.7" width="7" height="7.8" fill="#f79a5c"/>
<rect x="1155.8" y="257.2" width="7" height="7.8" fill="#f79a5c"/>
<rect x="1170.7" y="266.1" width="7" height="7.8" fill="#f79a5c"/>
<rect x="1184.9" y="274.6" width="7" height="7.8" fill="#f79a5c"/>
<rect x="1199.8" y="283.4" width="7" height="7.8" fill="#f79a5c"/>
<rect x="1210.7" y="291.6" width="7" height="7.8" fill="#f79a5c"/>
<rect x="1223.4" y="300.9" width="7" height="7.8" fill="#f79a5c"/>
<rect x="1239.5" y="310.1" width="7" height="7.8" fill="#f79a5c"/>
<circle cx="936.5" cy="316" r="4.1" fill="url(#gpur)"/>
<circle cx="940.3" cy="309" r="4.1" fill="url(#gpur)"/>
<circle cx="951.4" cy="292.3" r="4.1" fill="url(#gpur)"/>
<circle cx="966.4" cy="275.4" r="4.1" fill="url(#gpur)"/>
<circle cx="983.7" cy="255" r="4.1" fill="url(#gpur)"/>
<circle cx="1002.1" cy="234.3" r="4.1" fill="url(#gpur)"/>
<circle cx="1020.8" cy="214.5" r="4.1" fill="url(#gpur)"/>
<circle cx="1040.4" cy="195.8" r="4.1" fill="url(#gpur)"/>
<circle cx="1059.9" cy="178.7" r="4.1" fill="url(#gpur)"/>
<circle cx="1079.9" cy="162.9" r="4.1" fill="url(#gpur)"/>
<circle cx="1098.9" cy="150.6" r="4.1" fill="url(#gpur)"/>
<circle cx="1119" cy="137.2" r="4.1" fill="url(#gpur)"/>
<circle cx="1137.9" cy="127.5" r="4.1" fill="url(#gpur)"/>
<circle cx="1156.3" cy="119.3" r="4.1" fill="url(#gpur)"/>
<circle cx="1175.8" cy="112.2" r="4.1" fill="url(#gpur)"/>
<circle cx="1192" cy="109.7" r="4.1" fill="url(#gpur)"/>
<circle cx="1209" cy="107.4" r="4.1" fill="url(#gpur)"/>
<circle cx="1224.8" cy="108.1" r="4.1" fill="url(#gpur)"/>
<circle cx="1240.2" cy="110.1" r="4.1" fill="url(#gpur)"/>
<path d="M933.6 314.8l4.9 5.2l-4.9 5.2l-4.9 -5.2z" fill="#f79a5c"/>
<path d="M937 309.8l4.9 5.2l-4.9 5.2l-4.9 -5.2z" fill="#f79a5c"/>
<path d="M941 304.8l4.9 5.2l-4.9 5.2l-4.9 -5.2z" fill="#f79a5c"/>
<path d="M947 296.8l4.9 5.2l-4.9 5.2l-4.9 -5.2z" fill="#f79a5c"/>
<path d="M955.9 286.4l4.9 5.2l-4.9 5.2l-4.9 -5.2z" fill="#f79a5c"/>
<path d="M964.7 279l4.9 5.2l-4.9 5.2l-4.9 -5.2z" fill="#f79a5c"/>
<path d="M974.2 270.2l4.9 5.2l-4.9 5.2l-4.9 -5.2z" fill="#f79a5c"/>
<path d="M983.7 261.8l4.9 5.2l-4.9 5.2l-4.9 -5.2z" fill="#f79a5c"/>
<path d="M994.3 253.9l4.9 5.2l-4.9 5.2l-4.9 -5.2z" fill="#f79a5c"/>
<path d="M1004.4 247.8l4.9 5.2l-4.9 5.2l-4.9 -5.2z" fill="#f79a5c"/>
<path d="M1014.9 241.7l4.9 5.2l-4.9 5.2l-4.9 -5.2z" fill="#f79a5c"/>
<path d="M1026.4 236.6l4.9 5.2l-4.9 5.2l-4.9 -5.2z" fill="#f79a5c"/>
<path d="M1039.5 231.1l4.9 5.2l-4.9 5.2l-4.9 -5.2z" fill="#f79a5c"/>
<path d="M1052.4 227.8l4.9 5.2l-4.9 5.2l-4.9 -5.2z" fill="#f79a5c"/>
<path d="M1065.4 225.4l4.9 5.2l-4.9 5.2l-4.9 -5.2z" fill="#f79a5c"/>
<path d="M1078.6 223.8l4.9 5.2l-4.9 5.2l-4.9 -5.2z" fill="#f79a5c"/>
<path d="M1093.3 223.4l4.9 5.2l-4.9 5.2l-4.9 -5.2z" fill="#f79a5c"/>
<path d="M1113.3 221.4l4.9 5.2l-4.9 5.2l-4.9 -5.2z" fill="#f79a5c"/>
<path d="M1127.2 224.5l4.9 5.2l-4.9 5.2l-4.9 -5.2z" fill="#f79a5c"/>
<path d="M1141.7 229.1l4.9 5.2l-4.9 5.2l-4.9 -5.2z" fill="#f79a5c"/>
<path d="M1159.3 233.8l4.9 5.2l-4.9 5.2l-4.9 -5.2z" fill="#f79a5c"/>
<path d="M1174.2 241.4l4.9 5.2l-4.9 5.2l-4.9 -5.2z" fill="#f79a5c"/>
<path d="M1188.4 251.2l4.9 5.2l-4.9 5.2l-4.9 -5.2z" fill="#f79a5c"/>
<path d="M1203.3 261.6l4.9 5.2l-4.9 5.2l-4.9 -5.2z" fill="#f79a5c"/>
<path d="M1214.2 274.6l4.9 5.2l-4.9 5.2l-4.9 -5.2z" fill="#f79a5c"/>
<path d="M1227.1 287.7l4.9 5.2l-4.9 5.2l-4.9 -5.2z" fill="#f79a5c"/>
<path d="M1243 303.8l4.9 5.2l-4.9 5.2l-4.9 -5.2z" fill="#f79a5c"/>
<circle cx="1098.9" cy="149.9" r="3" fill="#4a2f9a" opacity="0.55"/>
<rect x="933.6" y="38.5" width="316.7" height="281.8" fill="none" stroke="#000" stroke-width="3"/>
<line x1="933.6" y1="320.3" x2="939.6" y2="320.3" stroke="#000" stroke-width="2.2"/>
<line x1="933.6" y1="285.1" x2="937.6" y2="285.1" stroke="#000" stroke-width="1.8"/>
<line x1="933.6" y1="249.85" x2="939.6" y2="249.85" stroke="#000" stroke-width="2.2"/>
<line x1="933.6" y1="214.65" x2="937.6" y2="214.65" stroke="#000" stroke-width="1.8"/>
<line x1="933.6" y1="179.4" x2="939.6" y2="179.4" stroke="#000" stroke-width="2.2"/>
<line x1="933.6" y1="144.2" x2="937.6" y2="144.2" stroke="#000" stroke-width="1.8"/>
<line x1="933.6" y1="108.95" x2="939.6" y2="108.95" stroke="#000" stroke-width="2.2"/>
<line x1="933.6" y1="73.75" x2="937.6" y2="73.75" stroke="#000" stroke-width="1.8"/>
<line x1="933.6" y1="38.5" x2="939.6" y2="38.5" stroke="#000" stroke-width="2.2"/>
<line x1="1250.3" y1="320.3" x2="1244.3" y2="320.3" stroke="#000" stroke-width="2.2"/>
<line x1="1250.3" y1="296.8" x2="1246.3" y2="296.8" stroke="#000" stroke-width="1.8"/>
<line x1="1250.3" y1="273.33" x2="1244.3" y2="273.33" stroke="#000" stroke-width="2.2"/>
<line x1="1250.3" y1="249.83" x2="1246.3" y2="249.83" stroke="#000" stroke-width="1.8"/>
<line x1="1250.3" y1="226.36" x2="1244.3" y2="226.36" stroke="#000" stroke-width="2.2"/>
<line x1="1250.3" y1="202.86" x2="1246.3" y2="202.86" stroke="#000" stroke-width="1.8"/>
<line x1="1250.3" y1="179.39" x2="1244.3" y2="179.39" stroke="#000" stroke-width="2.2"/>
<line x1="1250.3" y1="155.89" x2="1246.3" y2="155.89" stroke="#000" stroke-width="1.8"/>
<line x1="1250.3" y1="132.42" x2="1244.3" y2="132.42" stroke="#000" stroke-width="2.2"/>
<line x1="1250.3" y1="108.92" x2="1246.3" y2="108.92" stroke="#000" stroke-width="1.8"/>
<line x1="1250.3" y1="85.45" x2="1244.3" y2="85.45" stroke="#000" stroke-width="2.2"/>
<line x1="1250.3" y1="61.95" x2="1246.3" y2="61.95" stroke="#000" stroke-width="1.8"/>
<line x1="1250.3" y1="38.48" x2="1244.3" y2="38.48" stroke="#000" stroke-width="2.2"/>
<line x1="933.6" y1="320.3" x2="933.6" y2="314.3" stroke="#000" stroke-width="2.2"/>
<line x1="977.45" y1="320.3" x2="977.45" y2="316.3" stroke="#000" stroke-width="1.8"/>
<line x1="1021.3" y1="320.3" x2="1021.3" y2="314.3" stroke="#000" stroke-width="2.2"/>
<line x1="1065.15" y1="320.3" x2="1065.15" y2="316.3" stroke="#000" stroke-width="1.8"/>
<line x1="1109" y1="320.3" x2="1109" y2="314.3" stroke="#000" stroke-width="2.2"/>
<line x1="1152.85" y1="320.3" x2="1152.85" y2="316.3" stroke="#000" stroke-width="1.8"/>
<line x1="1196.7" y1="320.3" x2="1196.7" y2="314.3" stroke="#000" stroke-width="2.2"/>
<line x1="1240.55" y1="320.3" x2="1240.55" y2="316.3" stroke="#000" stroke-width="1.8"/>
<text x="928.3" y="326.2" font-size="18.5" fill="#000" text-anchor="end" textLength="22.8" lengthAdjust="spacingAndGlyphs">0.0</text>
<text x="928.3" y="255.75" font-size="18.5" fill="#000" text-anchor="end" textLength="22.8" lengthAdjust="spacingAndGlyphs">0.4</text>
<text x="928.3" y="185.3" font-size="18.5" fill="#000" text-anchor="end" textLength="22.8" lengthAdjust="spacingAndGlyphs">0.8</text>
<text x="928.3" y="114.85" font-size="18.5" fill="#000" text-anchor="end" textLength="22.8" lengthAdjust="spacingAndGlyphs">1.2</text>
<text x="928.3" y="44.4" font-size="18.5" fill="#000" text-anchor="end" textLength="22.8" lengthAdjust="spacingAndGlyphs">1.6</text>
<text x="1254.8" y="326.2" font-size="18.5" fill="#000" textLength="10.8" lengthAdjust="spacingAndGlyphs">0</text>
<text x="1254.8" y="279.23" font-size="18.5" fill="#000" textLength="19.6" lengthAdjust="spacingAndGlyphs">50</text>
<text x="1254.8" y="232.26" font-size="18.5" fill="#000" textLength="28.4" lengthAdjust="spacingAndGlyphs">100</text>
<text x="1254.8" y="185.29" font-size="18.5" fill="#000" textLength="28.4" lengthAdjust="spacingAndGlyphs">150</text>
<text x="1254.8" y="138.32" font-size="18.5" fill="#000" textLength="28.4" lengthAdjust="spacingAndGlyphs">200</text>
<text x="1254.8" y="91.35" font-size="18.5" fill="#000" textLength="28.4" lengthAdjust="spacingAndGlyphs">250</text>
<text x="1254.8" y="44.38" font-size="18.5" fill="#000" textLength="28.4" lengthAdjust="spacingAndGlyphs">300</text>
<text x="933.6" y="341.3" font-size="18.5" fill="#000" text-anchor="middle" textLength="10.8" lengthAdjust="spacingAndGlyphs">0</text>
<text x="1021.3" y="341.3" font-size="18.5" fill="#000" text-anchor="middle" textLength="28.4" lengthAdjust="spacingAndGlyphs">100</text>
<text x="1109" y="341.3" font-size="18.5" fill="#000" text-anchor="middle" textLength="28.4" lengthAdjust="spacingAndGlyphs">200</text>
<text x="1196.7" y="341.3" font-size="18.5" fill="#000" text-anchor="middle" textLength="28.4" lengthAdjust="spacingAndGlyphs">300</text>
<text x="1091.5" y="382.6" font-size="24" fill="#000" text-anchor="middle" textLength="254" lengthAdjust="spacingAndGlyphs">Current density (mA cm<tspan font-size="15" dy="-9">-2</tspan><tspan dy="9">​</tspan>)</text>
<text x="0" y="0" font-size="24.5" fill="#000" text-anchor="middle" textLength="125.5" lengthAdjust="spacingAndGlyphs" transform="translate(895,178.6) rotate(-90)">Voltage (V)</text>
<text x="0" y="0" font-size="24" fill="#000" text-anchor="middle" textLength="272.5" lengthAdjust="spacingAndGlyphs" transform="translate(1311.4,179.7) rotate(-90)">Power density (mW cm<tspan font-size="15" dy="-9">-2</tspan><tspan dy="9">​</tspan>)</text>
<circle cx="959.7" cy="56.6" r="4.1" fill="url(#gpur)"/>
<path d="M959.7 78.3l4.8 5.4l-4.8 5.4l-4.8 -5.4z" fill="#f79a5c"/>
<text x="973.6" y="59.8" font-size="18" fill="#000" textLength="104.6" lengthAdjust="spacingAndGlyphs">Fe<tspan font-size="11.5" dy="4">SA</tspan><tspan dy="-4">​</tspan>-Fe<tspan font-size="11.5" dy="4">AC</tspan><tspan dy="-4">​</tspan>/NC</text>
<text x="973.6" y="86.8" font-size="18" fill="#000" textLength="33" lengthAdjust="spacingAndGlyphs">Pt/C</text>
<text x="1127.8" y="90.3" font-size="19.5" fill="#8a86c6" font-weight="bold" textLength="106.4" lengthAdjust="spacingAndGlyphs">222 mW cm<tspan font-size="12.5" dy="-8">-2</tspan><tspan dy="8">​</tspan></text>
<line x1="977.6" y1="143.3" x2="948" y2="143.3" stroke="#000" stroke-width="1.5"/>
<path d="M938.3 143.3l12.5 -3.6v7.2z" fill="#000"/>
<line x1="1201.3" y1="123.3" x2="1228" y2="123.3" stroke="#000" stroke-width="1.5"/>
<path d="M1237.9 123.3l-12.5 -3.6v7.2z" fill="#000"/>
<text x="876.9" y="50.6" font-size="33" fill="#000">c</text>
</g>
<g id="panel_d">
<g clip-path="url(#dclip)">
<path d="M72.1 524.15L82.1 506.65M72.1 524.15L82.1 541.75M82.1 506.65L102.1 506.75M82.1 541.75L102.1 541.85M102.1 506.75L112.1 489.25M102.1 506.75L112.1 524.35M102.1 541.85L112.1 524.35M102.1 541.85L112.1 559.45M112.1 489.25L132.1 489.35M112.1 524.35L132.1 524.45M112.1 559.45L132.1 559.55M132.1 489.35L142.1 471.85M132.1 489.35L142.1 506.95M132.1 524.45L142.1 506.95M132.1 524.45L142.1 542.05M132.1 559.55L142.1 542.05M132.1 559.55L142.1 577.15M142.1 471.85L162.1 471.95M142.1 506.95L162.1 507.05M142.1 542.05L162.1 542.15M142.1 577.15L162.1 577.25M162.1 471.95L172.1 454.45M162.1 471.95L172.1 489.55M162.1 507.05L172.1 489.55M162.1 507.05L172.1 524.65M162.1 542.15L172.1 524.65M162.1 542.15L172.1 559.75M162.1 577.25L172.1 559.75M162.1 577.25L172.1 594.85M172.1 454.45L192.1 454.55M172.1 489.55L192.1 489.65M172.1 524.65L192.1 524.75M172.1 559.75L192.1 559.85M172.1 594.85L192.1 594.95M192.1 454.55L202.1 437.05M192.1 454.55L202.1 472.15M192.1 489.65L202.1 472.15M192.1 489.65L202.1 507.25M192.1 559.85L202.1 542.35M192.1 559.85L202.1 577.45M192.1 594.95L202.1 577.45M192.1 594.95L202.1 612.55M202.1 437.05L222.1 437.15M202.1 472.15L222.1 472.25M202.1 577.45L222.1 577.55M202.1 612.55L222.1 612.65M222.1 437.15L232.1 419.65M222.1 437.15L232.1 454.75M222.1 472.25L232.1 454.75M222.1 472.25L232.1 489.85M222.1 577.55L232.1 560.05M222.1 577.55L232.1 595.15M222.1 612.65L232.1 595.15M222.1 612.65L232.1 630.25M232.1 419.65L252.1 419.75M232.1 454.75L252.1 454.85M232.1 595.15L252.1 595.25M232.1 630.25L252.1 630.35M252.1 419.75L262.1 437.35M252.1 454.85L262.1 437.35M252.1 454.85L262.1 472.45M252.1 489.95L262.1 472.45M252.1 560.15L262.1 577.75M252.1 595.25L262.1 577.75M252.1 595.25L262.1 612.85M252.1 630.35L262.1 612.85M262.1 437.35L282.1 437.45M262.1 472.45L282.1 472.55M262.1 577.75L282.1 577.85M262.1 612.85L282.1 612.95M282.1 437.45L292.1 455.05M282.1 472.55L292.1 455.05M282.1 472.55L292.1 490.15M282.1 507.65L292.1 490.15M282.1 542.75L292.1 560.35M282.1 577.85L292.1 560.35M282.1 577.85L292.1 595.45M282.1 612.95L292.1 595.45M292.1 455.05L312.1 455.15M292.1 490.15L312.1 490.25M292.1 525.25L312.1 525.35M292.1 560.35L312.1 560.45M292.1 595.45L312.1 595.55M312.1 455.15L322.1 472.75M312.1 490.25L322.1 472.75M312.1 490.25L322.1 507.85M312.1 525.35L322.1 507.85M312.1 525.35L322.1 542.95M312.1 560.45L322.1 542.95M312.1 560.45L322.1 578.05M312.1 595.55L322.1 578.05M322.1 472.75L342.1 472.85M322.1 507.85L342.1 507.95M322.1 542.95L342.1 543.05M322.1 578.05L342.1 578.15M342.1 472.85L352.1 490.45M342.1 507.95L352.1 490.45M342.1 507.95L352.1 525.55M342.1 543.05L352.1 525.55M342.1 543.05L352.1 560.65M342.1 578.15L352.1 560.65M352.1 490.45L372.1 490.55M352.1 525.55L372.1 525.65M352.1 560.65L372.1 560.75M372.1 490.55L382.1 508.15M372.1 525.65L382.1 508.15M372.1 525.65L382.1 543.25M372.1 560.75L382.1 543.25M382.1 508.15L402.1 508.25M382.1 543.25L402.1 543.35M402.1 508.25L412.1 525.85M402.1 543.35L412.1 525.85" fill="none" stroke="#9a9a9a" stroke-width="0.9"/>
<circle cx="72.1" cy="524.15" r="1" fill="#555"/>
<circle cx="82.1" cy="506.65" r="1" fill="#555"/>
<circle cx="82.1" cy="541.75" r="1" fill="#555"/>
<circle cx="102.1" cy="506.75" r="1" fill="#555"/>
<circle cx="102.1" cy="541.85" r="1" fill="#555"/>
<circle cx="112.1" cy="489.25" r="1" fill="#555"/>
<circle cx="112.1" cy="524.35" r="1" fill="#555"/>
<circle cx="112.1" cy="559.45" r="1" fill="#555"/>
<circle cx="132.1" cy="489.35" r="1" fill="#555"/>
<circle cx="132.1" cy="524.45" r="1" fill="#555"/>
<circle cx="132.1" cy="559.55" r="1" fill="#555"/>
<circle cx="142.1" cy="471.85" r="1" fill="#555"/>
<circle cx="142.1" cy="506.95" r="1" fill="#555"/>
<circle cx="142.1" cy="542.05" r="1" fill="#555"/>
<circle cx="142.1" cy="577.15" r="1" fill="#555"/>
<circle cx="162.1" cy="471.95" r="1" fill="#555"/>
<circle cx="162.1" cy="507.05" r="1" fill="#555"/>
<circle cx="162.1" cy="542.15" r="1" fill="#555"/>
<circle cx="162.1" cy="577.25" r="1" fill="#555"/>
<circle cx="172.1" cy="454.45" r="1" fill="#555"/>
<circle cx="172.1" cy="489.55" r="1" fill="#555"/>
<circle cx="172.1" cy="524.65" r="1" fill="#555"/>
<circle cx="172.1" cy="559.75" r="1" fill="#555"/>
<circle cx="172.1" cy="594.85" r="1" fill="#555"/>
<circle cx="192.1" cy="454.55" r="1" fill="#555"/>
<circle cx="192.1" cy="489.65" r="1" fill="#555"/>
<circle cx="192.1" cy="559.85" r="1" fill="#555"/>
<circle cx="192.1" cy="594.95" r="1" fill="#555"/>
<circle cx="202.1" cy="437.05" r="1" fill="#555"/>
<circle cx="202.1" cy="472.15" r="1" fill="#555"/>
<circle cx="202.1" cy="577.45" r="1" fill="#555"/>
<circle cx="202.1" cy="612.55" r="1" fill="#555"/>
<circle cx="222.1" cy="437.15" r="1" fill="#555"/>
<circle cx="222.1" cy="472.25" r="1" fill="#555"/>
<circle cx="222.1" cy="577.55" r="1" fill="#555"/>
<circle cx="222.1" cy="612.65" r="1" fill="#555"/>
<circle cx="232.1" cy="419.65" r="1" fill="#555"/>
<circle cx="232.1" cy="454.75" r="1" fill="#555"/>
<circle cx="232.1" cy="595.15" r="1" fill="#555"/>
<circle cx="232.1" cy="630.25" r="1" fill="#555"/>
<circle cx="252.1" cy="419.75" r="1" fill="#555"/>
<circle cx="252.1" cy="454.85" r="1" fill="#555"/>
<circle cx="252.1" cy="595.25" r="1" fill="#555"/>
<circle cx="252.1" cy="630.35" r="1" fill="#555"/>
<circle cx="262.1" cy="437.35" r="1" fill="#555"/>
<circle cx="262.1" cy="472.45" r="1" fill="#555"/>
<circle cx="262.1" cy="577.75" r="1" fill="#555"/>
<circle cx="262.1" cy="612.85" r="1" fill="#555"/>
<circle cx="282.1" cy="437.45" r="1" fill="#555"/>
<circle cx="282.1" cy="472.55" r="1" fill="#555"/>
<circle cx="282.1" cy="577.85" r="1" fill="#555"/>
<circle cx="282.1" cy="612.95" r="1" fill="#555"/>
<circle cx="292.1" cy="455.05" r="1" fill="#555"/>
<circle cx="292.1" cy="490.15" r="1" fill="#555"/>
<circle cx="292.1" cy="560.35" r="1" fill="#555"/>
<circle cx="292.1" cy="595.45" r="1" fill="#555"/>
<circle cx="312.1" cy="455.15" r="1" fill="#555"/>
<circle cx="312.1" cy="490.25" r="1" fill="#555"/>
<circle cx="312.1" cy="525.35" r="1" fill="#555"/>
<circle cx="312.1" cy="560.45" r="1" fill="#555"/>
<circle cx="312.1" cy="595.55" r="1" fill="#555"/>
<circle cx="322.1" cy="472.75" r="1" fill="#555"/>
<circle cx="322.1" cy="507.85" r="1" fill="#555"/>
<circle cx="322.1" cy="542.95" r="1" fill="#555"/>
<circle cx="322.1" cy="578.05" r="1" fill="#555"/>
<circle cx="342.1" cy="472.85" r="1" fill="#555"/>
<circle cx="342.1" cy="507.95" r="1" fill="#555"/>
<circle cx="342.1" cy="543.05" r="1" fill="#555"/>
<circle cx="342.1" cy="578.15" r="1" fill="#555"/>
<circle cx="352.1" cy="490.45" r="1" fill="#555"/>
<circle cx="352.1" cy="525.55" r="1" fill="#555"/>
<circle cx="352.1" cy="560.65" r="1" fill="#555"/>
<circle cx="372.1" cy="490.55" r="1" fill="#555"/>
<circle cx="372.1" cy="525.65" r="1" fill="#555"/>
<circle cx="372.1" cy="560.75" r="1" fill="#555"/>
<circle cx="382.1" cy="508.15" r="1" fill="#555"/>
<circle cx="382.1" cy="543.25" r="1" fill="#555"/>
<circle cx="402.1" cy="508.25" r="1" fill="#555"/>
<circle cx="402.1" cy="543.35" r="1" fill="#555"/>
<circle cx="412.1" cy="525.85" r="1" fill="#555"/>
</g>
<g filter="url(#goo)">
<path d="M206.84 469.09Q222.98 465.53 234.54 458.01Q216.79 450.06 206.84 469.09Z" fill="#2e86e2" stroke="#2e86e2" stroke-width="1.2" stroke-linejoin="round"/>
<path d="M251.81 456.69Q265.93 469.35 280.94 473.27Q274.17 454.87 251.81 456.69Z" fill="#2e86e2" stroke="#2e86e2" stroke-width="1.2" stroke-linejoin="round"/>
<circle cx="229.87" cy="475.53" r="6.23" fill="#2e86e2"/>
<path d="M256.23 475.53L266.61 477.92" fill="none" stroke="#2e86e2" stroke-width="5.44" stroke-linecap="round" stroke-linejoin="round"/>
<path d="M176.8 488.93Q186.71 483.82 196.04 475.7Q177.83 470.9 176.8 488.93Z" fill="#2e86e2" stroke="#2e86e2" stroke-width="1.2" stroke-linejoin="round"/>
<circle cx="193.13" cy="497.09" r="5.4" fill="#2e86e2"/>
<path d="M312.55 491.78Q324.52 501.71 339.21 507.52Q332.99 487.36 312.55 491.78Z" fill="#2e86e2" stroke="#2e86e2" stroke-width="1.2" stroke-linejoin="round"/>
<path d="M312.54 558.61Q335.74 562.6 340.02 542.6Q327.36 548.2 312.54 558.61Z" fill="#2e86e2" stroke="#2e86e2" stroke-width="1.2" stroke-linejoin="round"/>
<path d="M315.34 513.07L325.72 514.98" fill="none" stroke="#2e86e2" stroke-width="4.99" stroke-linecap="round" stroke-linejoin="round"/>
<path d="M315.34 537.35L325.72 535.43" fill="none" stroke="#2e86e2" stroke-width="4.99" stroke-linecap="round" stroke-linejoin="round"/>
<path d="M174.7 559.92Q180.45 580.12 201.98 577.08Q189.84 565.19 174.7 559.92Z" fill="#2e86e2" stroke="#2e86e2" stroke-width="1.2" stroke-linejoin="round"/>
<path d="M165.18 523.45L164.38 536.23" fill="none" stroke="#2e86e2" stroke-width="6.81" stroke-linecap="round" stroke-linejoin="round"/>
<circle cx="179.55" cy="519.46" r="3.32" fill="#2e86e2"/>
<path d="M219.97 568.66L226.68 577.28" fill="none" stroke="#2e86e2" stroke-width="5.9" stroke-linecap="round" stroke-linejoin="round"/>
<path d="M268.53 567.06L261.82 575.69" fill="none" stroke="#2e86e2" stroke-width="5.9" stroke-linecap="round" stroke-linejoin="round"/>
<path d="M204.41 579.69Q209.21 598.02 230.89 593.73Q217.47 582.43 204.41 579.69Z" fill="#2e86e2" stroke="#2e86e2" stroke-width="1.2" stroke-linejoin="round"/>
<path d="M251.66 593.95Q272.22 596.73 279.49 577.07Q263.08 581.64 251.66 593.95Z" fill="#2e86e2" stroke="#2e86e2" stroke-width="1.2" stroke-linejoin="round"/>
<path d="M285.78 489.9L291.37 499.49" fill="none" stroke="#2e86e2" stroke-width="9.98" stroke-linecap="round" stroke-linejoin="round"/>
<circle cx="287.38" cy="554.6" r="8.72" fill="#2e86e2"/>
<circle cx="197.92" cy="557.8" r="4.57" fill="#2e86e2"/>
<circle cx="227.16" cy="441.5" r="2.08" fill="#2e86e2"/>
<circle cx="259.11" cy="441.5" r="2.08" fill="#2e86e2"/>
<circle cx="165.18" cy="477.92" r="2.28" fill="#2e86e2"/>
<circle cx="194.73" cy="588.95" r="3.12" fill="#2e86e2"/>
<circle cx="164.38" cy="570.58" r="2.08" fill="#2e86e2"/>
<circle cx="289.78" cy="588.95" r="2.08" fill="#2e86e2"/>
<circle cx="317.73" cy="574.57" r="1.87" fill="#2e86e2"/>
<circle cx="348.88" cy="494.7" r="1.87" fill="#2e86e2"/>
<circle cx="348.88" cy="553.8" r="1.87" fill="#2e86e2"/>
<circle cx="318.05" cy="475.85" r="1.25" fill="#2e86e2"/>
<circle cx="196.33" cy="458.75" r="1.04" fill="#2e86e2"/>
<circle cx="150" cy="505.08" r="1.25" fill="#2e86e2"/>
<circle cx="311.34" cy="481.92" r="1.25" fill="#2e86e2"/>
<circle cx="285.78" cy="580.16" r="1.04" fill="#2e86e2"/>
<circle cx="197.92" cy="473.93" r="1.04" fill="#2e86e2"/>
</g>
<g filter="url(#goo)">
<circle cx="233.87" cy="453.16" r="5.81" fill="#21dc2d"/>
<circle cx="250.96" cy="453.64" r="4.78" fill="#21dc2d"/>
<circle cx="312.62" cy="453.96" r="4.15" fill="#21dc2d"/>
<circle cx="172.36" cy="488.31" r="5.4" fill="#21dc2d"/>
<circle cx="261.82" cy="471.85" r="7.48" fill="#21dc2d"/>
<circle cx="260.22" cy="482.72" r="5.81" fill="#21dc2d"/>
<circle cx="274.6" cy="497.89" r="9.55" fill="#21dc2d"/>
<circle cx="277.8" cy="541.82" r="12.88" fill="#21dc2d"/>
<circle cx="284.98" cy="532.24" r="8.72" fill="#21dc2d"/>
<circle cx="171.57" cy="557.8" r="5.4" fill="#21dc2d"/>
<circle cx="163.58" cy="542.62" r="3.12" fill="#21dc2d"/>
<circle cx="163.58" cy="506.68" r="2.49" fill="#21dc2d"/>
<circle cx="220.29" cy="577.76" r="6.85" fill="#21dc2d"/>
<circle cx="260.22" cy="577.76" r="6.85" fill="#21dc2d"/>
<circle cx="230.67" cy="568.98" r="4.57" fill="#21dc2d"/>
<circle cx="250.64" cy="568.18" r="4.57" fill="#21dc2d"/>
<circle cx="233.87" cy="595.34" r="5.81" fill="#21dc2d"/>
<circle cx="248.24" cy="595.34" r="5.19" fill="#21dc2d"/>
<circle cx="321.73" cy="506.68" r="6.85" fill="#21dc2d"/>
<circle cx="321.73" cy="544.22" r="6.85" fill="#21dc2d"/>
<circle cx="341.69" cy="506.68" r="2.49" fill="#21dc2d"/>
<circle cx="341.69" cy="543.42" r="2.49" fill="#21dc2d"/>
<circle cx="349.68" cy="525.85" r="2.08" fill="#21dc2d"/>
<circle cx="311.34" cy="596.13" r="2.49" fill="#21dc2d"/>
<circle cx="201.12" cy="580.16" r="1.25" fill="#21dc2d"/>
<path d="M192.81 487.83C195.79 488.09 206.12 491.29 210.7 489.42C215.28 487.56 218.1 479.89 220.29 476.65C222.47 473.4 223.22 471.05 223.8 469.94" fill="none" stroke="#21dc2d" stroke-width="12.7" stroke-linecap="round" stroke-linejoin="round"/>
<path d="M284.98 474.41Q296.96 484.63 310.06 487.83" fill="none" stroke="#21dc2d" stroke-width="11.34" stroke-linecap="round" stroke-linejoin="round"/>
<path d="M173.96 524.25C176.14 525.58 183.87 527.71 187.06 532.24C190.26 536.76 192.07 546.83 193.13 551.41C194.2 555.99 193.4 558.33 193.45 559.71" fill="none" stroke="#21dc2d" stroke-width="12.7" stroke-linecap="round" stroke-linejoin="round"/>
<path d="M282.59 572.49Q293.77 562.91 308.47 561.31" fill="none" stroke="#21dc2d" stroke-width="10.43" stroke-linecap="round" stroke-linejoin="round"/>
<circle cx="301.76" cy="524.25" r="21.09" fill="#21dc2d"/>
<path d="M203.51 534.63L213.1 539.42" fill="none" stroke="#21dc2d" stroke-width="9.53" stroke-linecap="round" stroke-linejoin="round"/>
</g>
<circle cx="222.68" cy="471.21" r="4.57" fill="#2cba46"/>
<circle cx="193.93" cy="487.83" r="4.15" fill="#2cba46"/>
<circle cx="262.62" cy="471.85" r="4.57" fill="#2cba46"/>
<circle cx="173.96" cy="524.57" r="4.57" fill="#2cba46"/>
<circle cx="192.81" cy="560.19" r="4.57" fill="#2cba46"/>
<circle cx="220.29" cy="577.76" r="4.57" fill="#2cba46"/>
<circle cx="260.22" cy="577.76" r="4.57" fill="#2cba46"/>
<circle cx="321.73" cy="506.68" r="4.57" fill="#2cba46"/>
<circle cx="321.73" cy="544.22" r="4.57" fill="#2cba46"/>
<circle cx="282.59" cy="544.22" r="6.23" fill="#2cba46"/>
<g filter="url(#goo)">
<path d="M197.92 532.24C197.92 529.04 194.73 519.19 197.92 513.07C201.12 506.94 210.17 500.02 217.09 495.5C224.01 490.97 232.53 486.39 239.46 485.91C246.38 485.43 254.31 489.16 258.63 492.62C262.94 496.08 263.68 501.94 265.34 506.68C266.99 511.42 268.58 515.46 268.53 521.05C268.48 526.65 265.6 537.03 265.02 540.22" fill="none" stroke="#2e86e2" stroke-width="12.7" stroke-linecap="round" stroke-linejoin="round"/>
<circle cx="204.31" cy="529.04" r="8.72" fill="#2e86e2"/>
<path d="M202.72 541.82L212.62 549.01" fill="none" stroke="#2e86e2" stroke-width="9.07" stroke-linecap="round" stroke-linejoin="round"/>
<circle cx="225.08" cy="509.87" r="8.31" fill="#2e86e2"/>
<path d="M252.24 505.08Q261.82 519.46 260.22 532.24" fill="none" stroke="#2e86e2" stroke-width="11.34" stroke-linecap="round" stroke-linejoin="round"/>
<path d="M220.29 536.23L239.46 532.24" fill="none" stroke="#2e86e2" stroke-width="16.79" stroke-linecap="round" stroke-linejoin="round"/>
<circle cx="252.24" cy="525.85" r="6.65" fill="#2e86e2"/>
<circle cx="274.6" cy="509.87" r="5.4" fill="#2e86e2"/>
<circle cx="301.76" cy="525.21" r="14.54" fill="#2e86e2"/>
<circle cx="234.66" cy="557.8" r="8.72" fill="#2e86e2"/>
<circle cx="249.04" cy="556.2" r="7.89" fill="#2e86e2"/>
<circle cx="236.26" cy="545.02" r="4.57" fill="#2e86e2"/>
<circle cx="245.85" cy="549.01" r="4.57" fill="#2e86e2"/>
<path d="M252.24 553.8L260.22 552.2" fill="none" stroke="#2e86e2" stroke-width="4.99" stroke-linecap="round" stroke-linejoin="round"/>
</g>
<g filter="url(#goo)">
<circle cx="225.88" cy="522.65" r="3.74" fill="#21dc2d"/>
<circle cx="239.46" cy="517.06" r="4.15" fill="#21dc2d"/>
<circle cx="261.82" cy="530.96" r="4.57" fill="#21dc2d"/>
<circle cx="250.64" cy="540.54" r="4.15" fill="#21dc2d"/>
<circle cx="233.07" cy="553.32" r="2.49" fill="#21dc2d"/>
<circle cx="247.44" cy="554.92" r="2.49" fill="#21dc2d"/>
<circle cx="229.87" cy="533.83" r="2.91" fill="#21dc2d"/>
<path d="M240.26 547.41L240.73 556.2" fill="none" stroke="#21dc2d" stroke-width="5.44" stroke-linecap="round" stroke-linejoin="round"/>
<path d="M217.41 502.2L214.22 515.46" fill="none" stroke="#21dc2d" stroke-width="2.95" stroke-linecap="round" stroke-linejoin="round"/>
<path d="M253.04 497.89L247.76 503.8" fill="none" stroke="#21dc2d" stroke-width="5.44" stroke-linecap="round" stroke-linejoin="round"/>
</g>
<circle cx="204.31" cy="528.72" r="5.4" fill="#2673c9"/>
<circle cx="301.76" cy="525.21" r="9.35" fill="#2673c9"/>
<g filter="url(#goo)">
<circle cx="139.37" cy="642.69" r="8.22" fill="#21dc2d"/>
<circle cx="139.37" cy="658.36" r="8.22" fill="#21dc2d"/>
<circle cx="160.9" cy="642.69" r="8.22" fill="#21dc2d"/>
<circle cx="160.9" cy="658.36" r="8.22" fill="#21dc2d"/>
<circle cx="190.27" cy="642.69" r="8.22" fill="#21dc2d"/>
<circle cx="190.27" cy="658.36" r="8.22" fill="#21dc2d"/>
<circle cx="207.89" cy="642.69" r="8.22" fill="#21dc2d"/>
<circle cx="207.89" cy="658.36" r="8.22" fill="#21dc2d"/>
<circle cx="227.46" cy="642.69" r="8.22" fill="#21dc2d"/>
<circle cx="227.46" cy="658.36" r="8.22" fill="#21dc2d"/>
<circle cx="238.23" cy="642.69" r="8.22" fill="#21dc2d"/>
<circle cx="238.23" cy="658.36" r="8.22" fill="#21dc2d"/>
<circle cx="254.87" cy="642.69" r="8.22" fill="#21dc2d"/>
<circle cx="254.87" cy="658.36" r="8.22" fill="#21dc2d"/>
<circle cx="307.73" cy="642.69" r="8.22" fill="#21dc2d"/>
<circle cx="307.73" cy="658.36" r="8.22" fill="#21dc2d"/>
<circle cx="127.62" cy="643.67" r="4.11" fill="#21dc2d"/>
<circle cx="127.62" cy="656.2" r="4.11" fill="#21dc2d"/>
<circle cx="150.13" cy="643.28" r="5.76" fill="#21dc2d"/>
<circle cx="150.13" cy="657.38" r="5.76" fill="#21dc2d"/>
<circle cx="174.6" cy="658.94" r="6.17" fill="#21dc2d"/>
<circle cx="219.63" cy="643.28" r="6.17" fill="#21dc2d"/>
<ellipse cx="277.38" cy="652.09" rx="19.19" ry="17.23" fill="#21dc2d"/>
<circle cx="294.03" cy="660.9" r="7.19" fill="#21dc2d"/>
<circle cx="331.22" cy="645.63" r="2.67" fill="#21dc2d"/>
<circle cx="341.4" cy="645.63" r="2.67" fill="#21dc2d"/>
<circle cx="331.22" cy="656.99" r="2.67" fill="#21dc2d"/>
<circle cx="341.4" cy="656.99" r="2.67" fill="#21dc2d"/>
</g>
<circle cx="139.37" cy="643.28" r="4.52" fill="#2cba46"/>
<circle cx="139.37" cy="658.16" r="4.52" fill="#2cba46"/>
<circle cx="160.9" cy="643.28" r="4.52" fill="#2cba46"/>
<circle cx="160.9" cy="658.16" r="4.52" fill="#2cba46"/>
<circle cx="190.27" cy="643.28" r="4.52" fill="#2cba46"/>
<circle cx="190.27" cy="658.16" r="4.52" fill="#2cba46"/>
<circle cx="227.46" cy="643.28" r="4.52" fill="#2cba46"/>
<circle cx="227.46" cy="658.16" r="4.52" fill="#2cba46"/>
<circle cx="254.87" cy="643.28" r="4.52" fill="#2cba46"/>
<circle cx="254.87" cy="658.16" r="4.52" fill="#2cba46"/>
<circle cx="307.73" cy="643.28" r="4.52" fill="#2cba46"/>
<circle cx="307.73" cy="658.16" r="4.52" fill="#2cba46"/>
<g filter="url(#goo)">
<circle cx="130.56" cy="650.13" r="5.34" fill="#2e86e2"/>
<path d="M143.28 650.13L167.75 650.13" fill="none" stroke="#2e86e2" stroke-width="7.81" stroke-linecap="round" stroke-linejoin="round"/>
<path d="M175.58 649.15L202.01 649.15" fill="none" stroke="#2e86e2" stroke-width="8.63" stroke-linecap="round" stroke-linejoin="round"/>
<path d="M228.44 650.13L253.89 650.13" fill="none" stroke="#2e86e2" stroke-width="8.63" stroke-linecap="round" stroke-linejoin="round"/>
<path d="M297.94 651.5Q313.6 651.11 325.35 650.13" fill="none" stroke="#2e86e2" stroke-width="10.69" stroke-linecap="round" stroke-linejoin="round"/>
<circle cx="176.56" cy="636.82" r="8.63" fill="#2e86e2"/>
<circle cx="198.1" cy="636.82" r="6.78" fill="#2e86e2"/>
<path d="M272.49 636.43Q284.24 633.88 295.98 637.41" fill="none" stroke="#2e86e2" stroke-width="8.22" stroke-linecap="round" stroke-linejoin="round"/>
<path d="M170.69 657.96C170.36 660.74 165.79 668.73 168.73 674.6C171.67 680.48 181.13 690.59 188.31 693.2C195.49 695.81 206.09 692.71 211.8 690.27C217.51 687.82 218.33 681.46 222.57 678.52C226.81 675.58 232.68 674.93 237.25 672.65C241.82 670.36 246.88 667.1 249.98 664.82C253.08 662.53 254.87 659.92 255.85 658.94" fill="none" stroke="#2e86e2" stroke-width="13.57" stroke-linecap="round" stroke-linejoin="round"/>
<path d="M219.63 645.24L224.53 660.9" fill="none" stroke="#2e86e2" stroke-width="6.17" stroke-linecap="round" stroke-linejoin="round"/>
<path d="M270.53 651.11L282.28 651.5" fill="none" stroke="#2e86e2" stroke-width="6.17" stroke-linecap="round" stroke-linejoin="round"/>
<circle cx="292.07" cy="668.73" r="4.93" fill="#2e86e2"/>
<circle cx="276.41" cy="670.69" r="3.7" fill="#2e86e2"/>
<circle cx="286.19" cy="685.37" r="6.17" fill="#2e86e2"/>
<circle cx="288.54" cy="696.53" r="5.76" fill="#2e86e2"/>
<circle cx="339.05" cy="650.52" r="2.88" fill="#2e86e2"/>
</g>
<g filter="url(#goo)">
<path d="M193.2 666.77Q202.01 676.56 215.72 672.65" fill="none" stroke="#21dc2d" stroke-width="6.99" stroke-linecap="round" stroke-linejoin="round"/>
<circle cx="203.97" cy="661.29" r="5.34" fill="#21dc2d"/>
<ellipse cx="287.76" cy="691.05" rx="9.01" ry="3.33" fill="#21dc2d"/>
</g>
<circle cx="205.54" cy="668.34" r="6.17" fill="#2e86e2"/>
<ellipse cx="277.38" cy="651.5" rx="10.18" ry="4.7" fill="none" stroke="#2cba46" stroke-width="2.2"/>
<line x1="325.35" y1="649.74" x2="353.74" y2="649.74" stroke="#777" stroke-width="0.9"/>
<circle cx="169.71" cy="644.85" r="1.64" fill="#1010e0"/>
<circle cx="169.71" cy="656.99" r="1.64" fill="#1010e0"/>
<circle cx="338.07" cy="645.24" r="1.64" fill="#1010e0"/>
<circle cx="338.07" cy="657.38" r="1.64" fill="#1010e0"/>
<text x="25.1" y="427.3" font-size="33" fill="#000">d</text>
</g>
<g id="panel_e">
<line x1="466.55" y1="524.9" x2="470.88" y2="517.41" stroke="#7d7d7d" stroke-width="3.6" stroke-linecap="round"/>
<line x1="470.88" y1="517.41" x2="475.2" y2="509.92" stroke="#7d7d7d" stroke-width="3.6" stroke-linecap="round"/>
<line x1="466.55" y1="524.9" x2="470.88" y2="532.39" stroke="#7d7d7d" stroke-width="3.6" stroke-linecap="round"/>
<line x1="470.88" y1="532.39" x2="475.2" y2="539.88" stroke="#7d7d7d" stroke-width="3.6" stroke-linecap="round"/>
<line x1="475.2" y1="509.92" x2="483.85" y2="509.92" stroke="#7d7d7d" stroke-width="3.6" stroke-linecap="round"/>
<line x1="483.85" y1="509.92" x2="492.5" y2="509.92" stroke="#7d7d7d" stroke-width="3.6" stroke-linecap="round"/>
<line x1="475.2" y1="539.88" x2="483.85" y2="539.88" stroke="#7d7d7d" stroke-width="3.6" stroke-linecap="round"/>
<line x1="483.85" y1="539.88" x2="492.5" y2="539.88" stroke="#7d7d7d" stroke-width="3.6" stroke-linecap="round"/>
<line x1="492.5" y1="509.92" x2="496.83" y2="502.43" stroke="#7d7d7d" stroke-width="3.6" stroke-linecap="round"/>
<line x1="496.83" y1="502.43" x2="501.15" y2="494.94" stroke="#7d7d7d" stroke-width="3.6" stroke-linecap="round"/>
<line x1="492.5" y1="509.92" x2="496.83" y2="517.41" stroke="#7d7d7d" stroke-width="3.6" stroke-linecap="round"/>
<line x1="496.83" y1="517.41" x2="501.15" y2="524.9" stroke="#7d7d7d" stroke-width="3.6" stroke-linecap="round"/>
<line x1="492.5" y1="539.88" x2="496.83" y2="532.39" stroke="#7d7d7d" stroke-width="3.6" stroke-linecap="round"/>
<line x1="496.83" y1="532.39" x2="501.15" y2="524.9" stroke="#7d7d7d" stroke-width="3.6" stroke-linecap="round"/>
<line x1="492.5" y1="539.88" x2="496.83" y2="547.37" stroke="#7d7d7d" stroke-width="3.6" stroke-linecap="round"/>
<line x1="496.83" y1="547.37" x2="501.15" y2="554.86" stroke="#7d7d7d" stroke-width="3.6" stroke-linecap="round"/>
<line x1="501.15" y1="494.94" x2="509.8" y2="494.94" stroke="#7d7d7d" stroke-width="3.6" stroke-linecap="round"/>
<line x1="509.8" y1="494.94" x2="518.45" y2="494.94" stroke="#7d7d7d" stroke-width="3.6" stroke-linecap="round"/>
<line x1="501.15" y1="524.9" x2="509.8" y2="524.9" stroke="#7d7d7d" stroke-width="3.6" stroke-linecap="round"/>
<line x1="509.8" y1="524.9" x2="518.45" y2="524.9" stroke="#7d7d7d" stroke-width="3.6" stroke-linecap="round"/>
<line x1="501.15" y1="554.86" x2="509.8" y2="554.86" stroke="#7d7d7d" stroke-width="3.6" stroke-linecap="round"/>
<line x1="509.8" y1="554.86" x2="518.45" y2="554.86" stroke="#7d7d7d" stroke-width="3.6" stroke-linecap="round"/>
<line x1="518.45" y1="494.94" x2="522.78" y2="487.44" stroke="#7d7d7d" stroke-width="3.6" stroke-linecap="round"/>
<line x1="522.78" y1="487.44" x2="527.1" y2="479.95" stroke="#7d7d7d" stroke-width="3.6" stroke-linecap="round"/>
<line x1="518.45" y1="494.94" x2="522.78" y2="502.43" stroke="#7d7d7d" stroke-width="3.6" stroke-linecap="round"/>
<line x1="522.78" y1="502.43" x2="527.1" y2="509.92" stroke="#7d7d7d" stroke-width="3.6" stroke-linecap="round"/>
<line x1="518.45" y1="524.9" x2="522.78" y2="517.41" stroke="#7d7d7d" stroke-width="3.6" stroke-linecap="round"/>
<line x1="522.78" y1="517.41" x2="527.1" y2="509.92" stroke="#7d7d7d" stroke-width="3.6" stroke-linecap="round"/>
<line x1="518.45" y1="524.9" x2="522.78" y2="532.39" stroke="#7d7d7d" stroke-width="3.6" stroke-linecap="round"/>
<line x1="522.78" y1="532.39" x2="527.1" y2="539.88" stroke="#7d7d7d" stroke-width="3.6" stroke-linecap="round"/>
<line x1="518.45" y1="554.86" x2="522.78" y2="547.37" stroke="#7d7d7d" stroke-width="3.6" stroke-linecap="round"/>
<line x1="522.78" y1="547.37" x2="527.1" y2="539.88" stroke="#7d7d7d" stroke-width="3.6" stroke-linecap="round"/>
<line x1="518.45" y1="554.86" x2="522.78" y2="562.36" stroke="#7d7d7d" stroke-width="3.6" stroke-linecap="round"/>
<line x1="522.78" y1="562.36" x2="527.1" y2="569.85" stroke="#7d7d7d" stroke-width="3.6" stroke-linecap="round"/>
<line x1="527.1" y1="479.95" x2="535.75" y2="479.95" stroke="#7d7d7d" stroke-width="3.6" stroke-linecap="round"/>
<line x1="535.75" y1="479.95" x2="544.4" y2="479.95" stroke="#7d7d7d" stroke-width="3.6" stroke-linecap="round"/>
<line x1="527.1" y1="509.92" x2="535.75" y2="509.92" stroke="#7d7d7d" stroke-width="3.6" stroke-linecap="round"/>
<line x1="535.75" y1="509.92" x2="544.4" y2="509.92" stroke="#2330c9" stroke-width="3.6" stroke-linecap="round"/>
<line x1="527.1" y1="539.88" x2="535.75" y2="539.88" stroke="#7d7d7d" stroke-width="3.6" stroke-linecap="round"/>
<line x1="535.75" y1="539.88" x2="544.4" y2="539.88" stroke="#2330c9" stroke-width="3.6" stroke-linecap="round"/>
<line x1="527.1" y1="569.85" x2="535.75" y2="569.85" stroke="#7d7d7d" stroke-width="3.6" stroke-linecap="round"/>
<line x1="535.75" y1="569.85" x2="544.4" y2="569.85" stroke="#7d7d7d" stroke-width="3.6" stroke-linecap="round"/>
<line x1="544.4" y1="479.95" x2="548.73" y2="472.46" stroke="#7d7d7d" stroke-width="3.6" stroke-linecap="round"/>
<line x1="548.73" y1="472.46" x2="553.05" y2="464.97" stroke="#7d7d7d" stroke-width="3.6" stroke-linecap="round"/>
<line x1="544.4" y1="479.95" x2="548.73" y2="487.44" stroke="#7d7d7d" stroke-width="3.6" stroke-linecap="round"/>
<line x1="548.73" y1="487.44" x2="553.05" y2="494.94" stroke="#7d7d7d" stroke-width="3.6" stroke-linecap="round"/>
<line x1="544.4" y1="509.92" x2="548.73" y2="502.43" stroke="#2330c9" stroke-width="3.6" stroke-linecap="round"/>
<line x1="548.73" y1="502.43" x2="553.05" y2="494.94" stroke="#7d7d7d" stroke-width="3.6" stroke-linecap="round"/>
<line x1="544.4" y1="539.88" x2="548.73" y2="547.37" stroke="#2330c9" stroke-width="3.6" stroke-linecap="round"/>
<line x1="548.73" y1="547.37" x2="553.05" y2="554.86" stroke="#7d7d7d" stroke-width="3.6" stroke-linecap="round"/>
<line x1="544.4" y1="569.85" x2="548.73" y2="562.36" stroke="#7d7d7d" stroke-width="3.6" stroke-linecap="round"/>
<line x1="548.73" y1="562.36" x2="553.05" y2="554.86" stroke="#7d7d7d" stroke-width="3.6" stroke-linecap="round"/>
<line x1="544.4" y1="569.85" x2="548.73" y2="577.34" stroke="#7d7d7d" stroke-width="3.6" stroke-linecap="round"/>
<line x1="548.73" y1="577.34" x2="553.05" y2="584.83" stroke="#7d7d7d" stroke-width="3.6" stroke-linecap="round"/>
<line x1="553.05" y1="464.97" x2="561.7" y2="464.97" stroke="#7d7d7d" stroke-width="3.6" stroke-linecap="round"/>
<line x1="561.7" y1="464.97" x2="570.35" y2="464.97" stroke="#7d7d7d" stroke-width="3.6" stroke-linecap="round"/>
<line x1="553.05" y1="494.94" x2="561.7" y2="494.94" stroke="#7d7d7d" stroke-width="3.6" stroke-linecap="round"/>
<line x1="561.7" y1="494.94" x2="570.35" y2="494.94" stroke="#7d7d7d" stroke-width="3.6" stroke-linecap="round"/>
<line x1="553.05" y1="554.86" x2="561.7" y2="554.86" stroke="#7d7d7d" stroke-width="3.6" stroke-linecap="round"/>
<line x1="561.7" y1="554.86" x2="570.35" y2="554.86" stroke="#7d7d7d" stroke-width="3.6" stroke-linecap="round"/>
<line x1="553.05" y1="584.83" x2="561.7" y2="584.83" stroke="#7d7d7d" stroke-width="3.6" stroke-linecap="round"/>
<line x1="561.7" y1="584.83" x2="570.35" y2="584.83" stroke="#7d7d7d" stroke-width="3.6" stroke-linecap="round"/>
<line x1="570.35" y1="464.97" x2="574.67" y2="472.46" stroke="#7d7d7d" stroke-width="3.6" stroke-linecap="round"/>
<line x1="574.67" y1="472.46" x2="579" y2="479.95" stroke="#7d7d7d" stroke-width="3.6" stroke-linecap="round"/>
<line x1="570.35" y1="494.94" x2="574.67" y2="487.44" stroke="#7d7d7d" stroke-width="3.6" stroke-linecap="round"/>
<line x1="574.67" y1="487.44" x2="579" y2="479.95" stroke="#7d7d7d" stroke-width="3.6" stroke-linecap="round"/>
<line x1="570.35" y1="494.94" x2="574.67" y2="502.43" stroke="#7d7d7d" stroke-width="3.6" stroke-linecap="round"/>
<line x1="574.67" y1="502.43" x2="579" y2="509.92" stroke="#2330c9" stroke-width="3.6" stroke-linecap="round"/>
<line x1="570.35" y1="554.86" x2="574.67" y2="547.37" stroke="#7d7d7d" stroke-width="3.6" stroke-linecap="round"/>
<line x1="574.67" y1="547.37" x2="579" y2="539.88" stroke="#2330c9" stroke-width="3.6" stroke-linecap="round"/>
<line x1="570.35" y1="554.86" x2="574.67" y2="562.36" stroke="#7d7d7d" stroke-width="3.6" stroke-linecap="round"/>
<line x1="574.67" y1="562.36" x2="579" y2="569.85" stroke="#7d7d7d" stroke-width="3.6" stroke-linecap="round"/>
<line x1="570.35" y1="584.83" x2="574.67" y2="577.34" stroke="#7d7d7d" stroke-width="3.6" stroke-linecap="round"/>
<line x1="574.67" y1="577.34" x2="579" y2="569.85" stroke="#7d7d7d" stroke-width="3.6" stroke-linecap="round"/>
<line x1="579" y1="479.95" x2="587.65" y2="479.95" stroke="#7d7d7d" stroke-width="3.6" stroke-linecap="round"/>
<line x1="587.65" y1="479.95" x2="596.3" y2="479.95" stroke="#7d7d7d" stroke-width="3.6" stroke-linecap="round"/>
<line x1="579" y1="509.92" x2="587.65" y2="509.92" stroke="#2330c9" stroke-width="3.6" stroke-linecap="round"/>
<line x1="587.65" y1="509.92" x2="596.3" y2="509.92" stroke="#7d7d7d" stroke-width="3.6" stroke-linecap="round"/>
<line x1="579" y1="539.88" x2="587.65" y2="539.88" stroke="#2330c9" stroke-width="3.6" stroke-linecap="round"/>
<line x1="587.65" y1="539.88" x2="596.3" y2="539.88" stroke="#7d7d7d" stroke-width="3.6" stroke-linecap="round"/>
<line x1="579" y1="569.85" x2="587.65" y2="569.85" stroke="#7d7d7d" stroke-width="3.6" stroke-linecap="round"/>
<line x1="587.65" y1="569.85" x2="596.3" y2="569.85" stroke="#7d7d7d" stroke-width="3.6" stroke-linecap="round"/>
<line x1="596.3" y1="479.95" x2="600.62" y2="487.44" stroke="#7d7d7d" stroke-width="3.6" stroke-linecap="round"/>
<line x1="600.62" y1="487.44" x2="604.95" y2="494.94" stroke="#7d7d7d" stroke-width="3.6" stroke-linecap="round"/>
<line x1="596.3" y1="509.92" x2="600.62" y2="502.43" stroke="#7d7d7d" stroke-width="3.6" stroke-linecap="round"/>
<line x1="600.62" y1="502.43" x2="604.95" y2="494.94" stroke="#7d7d7d" stroke-width="3.6" stroke-linecap="round"/>
<line x1="596.3" y1="509.92" x2="600.62" y2="517.41" stroke="#7d7d7d" stroke-width="3.6" stroke-linecap="round"/>
<line x1="600.62" y1="517.41" x2="604.95" y2="524.9" stroke="#7d7d7d" stroke-width="3.6" stroke-linecap="round"/>
<line x1="596.3" y1="539.88" x2="600.62" y2="532.39" stroke="#7d7d7d" stroke-width="3.6" stroke-linecap="round"/>
<line x1="600.62" y1="532.39" x2="604.95" y2="524.9" stroke="#7d7d7d" stroke-width="3.6" stroke-linecap="round"/>
<line x1="596.3" y1="539.88" x2="600.62" y2="547.37" stroke="#7d7d7d" stroke-width="3.6" stroke-linecap="round"/>
<line x1="600.62" y1="547.37" x2="604.95" y2="554.86" stroke="#7d7d7d" stroke-width="3.6" stroke-linecap="round"/>
<line x1="596.3" y1="569.85" x2="600.62" y2="562.36" stroke="#7d7d7d" stroke-width="3.6" stroke-linecap="round"/>
<line x1="600.62" y1="562.36" x2="604.95" y2="554.86" stroke="#7d7d7d" stroke-width="3.6" stroke-linecap="round"/>
<line x1="604.95" y1="494.94" x2="613.6" y2="494.94" stroke="#7d7d7d" stroke-width="3.6" stroke-linecap="round"/>
<line x1="613.6" y1="494.94" x2="622.25" y2="494.94" stroke="#7d7d7d" stroke-width="3.6" stroke-linecap="round"/>
<line x1="604.95" y1="524.9" x2="613.6" y2="524.9" stroke="#7d7d7d" stroke-width="3.6" stroke-linecap="round"/>
<line x1="613.6" y1="524.9" x2="622.25" y2="524.9" stroke="#7d7d7d" stroke-width="3.6" stroke-linecap="round"/>
<line x1="604.95" y1="554.86" x2="613.6" y2="554.86" stroke="#7d7d7d" stroke-width="3.6" stroke-linecap="round"/>
<line x1="613.6" y1="554.86" x2="622.25" y2="554.86" stroke="#7d7d7d" stroke-width="3.6" stroke-linecap="round"/>
<line x1="622.25" y1="494.94" x2="626.58" y2="502.43" stroke="#7d7d7d" stroke-width="3.6" stroke-linecap="round"/>
<line x1="626.58" y1="502.43" x2="630.9" y2="509.92" stroke="#7d7d7d" stroke-width="3.6" stroke-linecap="round"/>
<line x1="622.25" y1="524.9" x2="626.58" y2="517.41" stroke="#7d7d7d" stroke-width="3.6" stroke-linecap="round"/>
<line x1="626.58" y1="517.41" x2="630.9" y2="509.92" stroke="#7d7d7d" stroke-width="3.6" stroke-linecap="round"/>
<line x1="622.25" y1="524.9" x2="626.58" y2="532.39" stroke="#7d7d7d" stroke-width="3.6" stroke-linecap="round"/>
<line x1="626.58" y1="532.39" x2="630.9" y2="539.88" stroke="#7d7d7d" stroke-width="3.6" stroke-linecap="round"/>
<line x1="622.25" y1="554.86" x2="626.58" y2="547.37" stroke="#7d7d7d" stroke-width="3.6" stroke-linecap="round"/>
<line x1="626.58" y1="547.37" x2="630.9" y2="539.88" stroke="#7d7d7d" stroke-width="3.6" stroke-linecap="round"/>
<line x1="630.9" y1="509.92" x2="639.55" y2="509.92" stroke="#7d7d7d" stroke-width="3.6" stroke-linecap="round"/>
<line x1="639.55" y1="509.92" x2="648.2" y2="509.92" stroke="#7d7d7d" stroke-width="3.6" stroke-linecap="round"/>
<line x1="630.9" y1="539.88" x2="639.55" y2="539.88" stroke="#7d7d7d" stroke-width="3.6" stroke-linecap="round"/>
<line x1="639.55" y1="539.88" x2="648.2" y2="539.88" stroke="#7d7d7d" stroke-width="3.6" stroke-linecap="round"/>
<line x1="648.2" y1="509.92" x2="652.53" y2="517.41" stroke="#7d7d7d" stroke-width="3.6" stroke-linecap="round"/>
<line x1="652.53" y1="517.41" x2="656.85" y2="524.9" stroke="#7d7d7d" stroke-width="3.6" stroke-linecap="round"/>
<line x1="648.2" y1="539.88" x2="652.53" y2="532.39" stroke="#7d7d7d" stroke-width="3.6" stroke-linecap="round"/>
<line x1="652.53" y1="532.39" x2="656.85" y2="524.9" stroke="#7d7d7d" stroke-width="3.6" stroke-linecap="round"/>
<line x1="561.7" y1="524.9" x2="570.35" y2="517.41" stroke="#e6bf31" stroke-width="3.2" stroke-linecap="round"/>
<line x1="570.35" y1="517.41" x2="579" y2="509.92" stroke="#2330c9" stroke-width="3.2" stroke-linecap="round"/>
<line x1="561.7" y1="524.9" x2="553.05" y2="517.41" stroke="#e6bf31" stroke-width="3.2" stroke-linecap="round"/>
<line x1="553.05" y1="517.41" x2="544.4" y2="509.92" stroke="#2330c9" stroke-width="3.2" stroke-linecap="round"/>
<line x1="561.7" y1="524.9" x2="553.05" y2="532.39" stroke="#e6bf31" stroke-width="3.2" stroke-linecap="round"/>
<line x1="553.05" y1="532.39" x2="544.4" y2="539.88" stroke="#2330c9" stroke-width="3.2" stroke-linecap="round"/>
<line x1="561.7" y1="524.9" x2="570.35" y2="532.39" stroke="#e6bf31" stroke-width="3.2" stroke-linecap="round"/>
<line x1="570.35" y1="532.39" x2="579" y2="539.88" stroke="#2330c9" stroke-width="3.2" stroke-linecap="round"/>
<circle cx="466.55" cy="524.9" r="4" fill="url(#gC)"/>
<circle cx="475.2" cy="509.92" r="4" fill="url(#gC)"/>
<circle cx="475.2" cy="539.88" r="4" fill="url(#gC)"/>
<circle cx="492.5" cy="509.92" r="4" fill="url(#gC)"/>
<circle cx="492.5" cy="539.88" r="4" fill="url(#gC)"/>
<circle cx="501.15" cy="494.94" r="4" fill="url(#gC)"/>
<circle cx="501.15" cy="524.9" r="4" fill="url(#gC)"/>
<circle cx="501.15" cy="554.86" r="4" fill="url(#gC)"/>
<circle cx="518.45" cy="494.94" r="4" fill="url(#gC)"/>
<circle cx="518.45" cy="524.9" r="4" fill="url(#gC)"/>
<circle cx="518.45" cy="554.86" r="4" fill="url(#gC)"/>
<circle cx="527.1" cy="479.95" r="4" fill="url(#gC)"/>
<circle cx="527.1" cy="509.92" r="4" fill="url(#gC)"/>
<circle cx="527.1" cy="539.88" r="4" fill="url(#gC)"/>
<circle cx="527.1" cy="569.85" r="4" fill="url(#gC)"/>
<circle cx="544.4" cy="479.95" r="4" fill="url(#gC)"/>
<circle cx="544.4" cy="509.92" r="3.7" fill="url(#gN)"/>
<circle cx="544.4" cy="539.88" r="3.7" fill="url(#gN)"/>
<circle cx="544.4" cy="569.85" r="4" fill="url(#gC)"/>
<circle cx="553.05" cy="464.97" r="4" fill="url(#gC)"/>
<circle cx="553.05" cy="494.94" r="4" fill="url(#gC)"/>
<circle cx="553.05" cy="554.86" r="4" fill="url(#gC)"/>
<circle cx="553.05" cy="584.83" r="4" fill="url(#gC)"/>
<circle cx="570.35" cy="464.97" r="4" fill="url(#gC)"/>
<circle cx="570.35" cy="494.94" r="4" fill="url(#gC)"/>
<circle cx="570.35" cy="554.86" r="4" fill="url(#gC)"/>
<circle cx="570.35" cy="584.83" r="4" fill="url(#gC)"/>
<circle cx="579" cy="479.95" r="4" fill="url(#gC)"/>
<circle cx="579" cy="509.92" r="3.7" fill="url(#gN)"/>
<circle cx="579" cy="539.88" r="3.7" fill="url(#gN)"/>
<circle cx="579" cy="569.85" r="4" fill="url(#gC)"/>
<circle cx="596.3" cy="479.95" r="4" fill="url(#gC)"/>
<circle cx="596.3" cy="509.92" r="4" fill="url(#gC)"/>
<circle cx="596.3" cy="539.88" r="4" fill="url(#gC)"/>
<circle cx="596.3" cy="569.85" r="4" fill="url(#gC)"/>
<circle cx="604.95" cy="494.94" r="4" fill="url(#gC)"/>
<circle cx="604.95" cy="524.9" r="4" fill="url(#gC)"/>
<circle cx="604.95" cy="554.86" r="4" fill="url(#gC)"/>
<circle cx="622.25" cy="494.94" r="4" fill="url(#gC)"/>
<circle cx="622.25" cy="524.9" r="4" fill="url(#gC)"/>
<circle cx="622.25" cy="554.86" r="4" fill="url(#gC)"/>
<circle cx="630.9" cy="509.92" r="4" fill="url(#gC)"/>
<circle cx="630.9" cy="539.88" r="4" fill="url(#gC)"/>
<circle cx="648.2" cy="509.92" r="4" fill="url(#gC)"/>
<circle cx="648.2" cy="539.88" r="4" fill="url(#gC)"/>
<circle cx="656.85" cy="524.9" r="4" fill="url(#gC)"/>
<circle cx="561.7" cy="524.9" r="6.2" fill="url(#gFe)"/>
<line x1="752.15" y1="508.07" x2="760.8" y2="508.07" stroke="#7d7d7d" stroke-width="3.6" stroke-linecap="round"/>
<line x1="760.8" y1="508.07" x2="769.45" y2="508.07" stroke="#7d7d7d" stroke-width="3.6" stroke-linecap="round"/>
<line x1="752.15" y1="508.07" x2="747.83" y2="515.56" stroke="#7d7d7d" stroke-width="3.6" stroke-linecap="round"/>
<line x1="747.83" y1="515.56" x2="743.5" y2="523.05" stroke="#2330c9" stroke-width="3.6" stroke-linecap="round"/>
<line x1="769.45" y1="508.07" x2="773.77" y2="515.56" stroke="#7d7d7d" stroke-width="3.6" stroke-linecap="round"/>
<line x1="773.77" y1="515.56" x2="778.1" y2="523.05" stroke="#2330c9" stroke-width="3.6" stroke-linecap="round"/>
<line x1="726.2" y1="523.05" x2="734.85" y2="523.05" stroke="#7d7d7d" stroke-width="3.6" stroke-linecap="round"/>
<line x1="734.85" y1="523.05" x2="743.5" y2="523.05" stroke="#2330c9" stroke-width="3.6" stroke-linecap="round"/>
<line x1="726.2" y1="523.05" x2="721.88" y2="530.54" stroke="#7d7d7d" stroke-width="3.6" stroke-linecap="round"/>
<line x1="721.88" y1="530.54" x2="717.55" y2="538.04" stroke="#2330c9" stroke-width="3.6" stroke-linecap="round"/>
<line x1="795.4" y1="523.05" x2="799.72" y2="530.54" stroke="#7d7d7d" stroke-width="3.6" stroke-linecap="round"/>
<line x1="799.72" y1="530.54" x2="804.05" y2="538.04" stroke="#7d7d7d" stroke-width="3.6" stroke-linecap="round"/>
<line x1="795.4" y1="523.05" x2="786.75" y2="523.05" stroke="#7d7d7d" stroke-width="3.6" stroke-linecap="round"/>
<line x1="786.75" y1="523.05" x2="778.1" y2="523.05" stroke="#2330c9" stroke-width="3.6" stroke-linecap="round"/>
<line x1="700.25" y1="538.04" x2="695.92" y2="545.53" stroke="#7d7d7d" stroke-width="3.6" stroke-linecap="round"/>
<line x1="695.92" y1="545.53" x2="691.6" y2="553.02" stroke="#7d7d7d" stroke-width="3.6" stroke-linecap="round"/>
<line x1="700.25" y1="538.04" x2="708.9" y2="538.04" stroke="#7d7d7d" stroke-width="3.6" stroke-linecap="round"/>
<line x1="708.9" y1="538.04" x2="717.55" y2="538.04" stroke="#2330c9" stroke-width="3.6" stroke-linecap="round"/>
<line x1="804.05" y1="538.04" x2="812.7" y2="538.04" stroke="#7d7d7d" stroke-width="3.6" stroke-linecap="round"/>
<line x1="812.7" y1="538.04" x2="821.35" y2="538.04" stroke="#7d7d7d" stroke-width="3.6" stroke-linecap="round"/>
<line x1="804.05" y1="538.04" x2="799.72" y2="545.53" stroke="#7d7d7d" stroke-width="3.6" stroke-linecap="round"/>
<line x1="799.72" y1="545.53" x2="795.4" y2="553.02" stroke="#2330c9" stroke-width="3.6" stroke-linecap="round"/>
<line x1="821.35" y1="538.04" x2="825.67" y2="545.53" stroke="#7d7d7d" stroke-width="3.6" stroke-linecap="round"/>
<line x1="825.67" y1="545.53" x2="830" y2="553.02" stroke="#2330c9" stroke-width="3.6" stroke-linecap="round"/>
<line x1="674.3" y1="553.02" x2="682.95" y2="553.02" stroke="#7d7d7d" stroke-width="3.6" stroke-linecap="round"/>
<line x1="682.95" y1="553.02" x2="691.6" y2="553.02" stroke="#7d7d7d" stroke-width="3.6" stroke-linecap="round"/>
<line x1="674.3" y1="553.02" x2="669.97" y2="560.51" stroke="#7d7d7d" stroke-width="3.6" stroke-linecap="round"/>
<line x1="669.97" y1="560.51" x2="665.65" y2="568" stroke="#7d7d7d" stroke-width="3.6" stroke-linecap="round"/>
<line x1="691.6" y1="553.02" x2="695.92" y2="560.51" stroke="#7d7d7d" stroke-width="3.6" stroke-linecap="round"/>
<line x1="695.92" y1="560.51" x2="700.25" y2="568" stroke="#2330c9" stroke-width="3.6" stroke-linecap="round"/>
<line x1="847.3" y1="553.02" x2="851.62" y2="560.51" stroke="#7d7d7d" stroke-width="3.6" stroke-linecap="round"/>
<line x1="851.62" y1="560.51" x2="855.95" y2="568" stroke="#7d7d7d" stroke-width="3.6" stroke-linecap="round"/>
<line x1="847.3" y1="553.02" x2="838.65" y2="553.02" stroke="#7d7d7d" stroke-width="3.6" stroke-linecap="round"/>
<line x1="838.65" y1="553.02" x2="830" y2="553.02" stroke="#2330c9" stroke-width="3.6" stroke-linecap="round"/>
<line x1="665.65" y1="568" x2="669.97" y2="575.49" stroke="#7d7d7d" stroke-width="3.6" stroke-linecap="round"/>
<line x1="669.97" y1="575.49" x2="674.3" y2="582.98" stroke="#7d7d7d" stroke-width="3.6" stroke-linecap="round"/>
<line x1="855.95" y1="568" x2="851.62" y2="575.49" stroke="#7d7d7d" stroke-width="3.6" stroke-linecap="round"/>
<line x1="851.62" y1="575.49" x2="847.3" y2="582.98" stroke="#7d7d7d" stroke-width="3.6" stroke-linecap="round"/>
<line x1="674.3" y1="582.98" x2="682.95" y2="582.98" stroke="#7d7d7d" stroke-width="3.6" stroke-linecap="round"/>
<line x1="682.95" y1="582.98" x2="691.6" y2="582.98" stroke="#7d7d7d" stroke-width="3.6" stroke-linecap="round"/>
<line x1="691.6" y1="582.98" x2="695.92" y2="590.47" stroke="#7d7d7d" stroke-width="3.6" stroke-linecap="round"/>
<line x1="695.92" y1="590.47" x2="700.25" y2="597.96" stroke="#7d7d7d" stroke-width="3.6" stroke-linecap="round"/>
<line x1="691.6" y1="582.98" x2="695.92" y2="575.49" stroke="#7d7d7d" stroke-width="3.6" stroke-linecap="round"/>
<line x1="695.92" y1="575.49" x2="700.25" y2="568" stroke="#2330c9" stroke-width="3.6" stroke-linecap="round"/>
<line x1="847.3" y1="582.98" x2="838.65" y2="582.98" stroke="#7d7d7d" stroke-width="3.6" stroke-linecap="round"/>
<line x1="838.65" y1="582.98" x2="830" y2="582.98" stroke="#2330c9" stroke-width="3.6" stroke-linecap="round"/>
<line x1="700.25" y1="597.96" x2="708.9" y2="597.96" stroke="#7d7d7d" stroke-width="3.6" stroke-linecap="round"/>
<line x1="708.9" y1="597.96" x2="717.55" y2="597.96" stroke="#2330c9" stroke-width="3.6" stroke-linecap="round"/>
<line x1="804.05" y1="597.96" x2="812.7" y2="597.96" stroke="#7d7d7d" stroke-width="3.6" stroke-linecap="round"/>
<line x1="812.7" y1="597.96" x2="821.35" y2="597.96" stroke="#7d7d7d" stroke-width="3.6" stroke-linecap="round"/>
<line x1="804.05" y1="597.96" x2="799.72" y2="605.46" stroke="#7d7d7d" stroke-width="3.6" stroke-linecap="round"/>
<line x1="799.72" y1="605.46" x2="795.4" y2="612.95" stroke="#7d7d7d" stroke-width="3.6" stroke-linecap="round"/>
<line x1="804.05" y1="597.96" x2="799.72" y2="590.47" stroke="#7d7d7d" stroke-width="3.6" stroke-linecap="round"/>
<line x1="799.72" y1="590.47" x2="795.4" y2="582.98" stroke="#2330c9" stroke-width="3.6" stroke-linecap="round"/>
<line x1="821.35" y1="597.96" x2="825.67" y2="590.47" stroke="#7d7d7d" stroke-width="3.6" stroke-linecap="round"/>
<line x1="825.67" y1="590.47" x2="830" y2="582.98" stroke="#2330c9" stroke-width="3.6" stroke-linecap="round"/>
<line x1="726.2" y1="612.95" x2="721.88" y2="605.46" stroke="#7d7d7d" stroke-width="3.6" stroke-linecap="round"/>
<line x1="721.88" y1="605.46" x2="717.55" y2="597.96" stroke="#2330c9" stroke-width="3.6" stroke-linecap="round"/>
<line x1="726.2" y1="612.95" x2="734.85" y2="612.95" stroke="#7d7d7d" stroke-width="3.6" stroke-linecap="round"/>
<line x1="734.85" y1="612.95" x2="743.5" y2="612.95" stroke="#2330c9" stroke-width="3.6" stroke-linecap="round"/>
<line x1="795.4" y1="612.95" x2="786.75" y2="612.95" stroke="#7d7d7d" stroke-width="3.6" stroke-linecap="round"/>
<line x1="786.75" y1="612.95" x2="778.1" y2="612.95" stroke="#2330c9" stroke-width="3.6" stroke-linecap="round"/>
<line x1="752.15" y1="627.93" x2="760.8" y2="627.93" stroke="#7d7d7d" stroke-width="3.6" stroke-linecap="round"/>
<line x1="760.8" y1="627.93" x2="769.45" y2="627.93" stroke="#7d7d7d" stroke-width="3.6" stroke-linecap="round"/>
<line x1="752.15" y1="627.93" x2="747.83" y2="620.44" stroke="#7d7d7d" stroke-width="3.6" stroke-linecap="round"/>
<line x1="747.83" y1="620.44" x2="743.5" y2="612.95" stroke="#2330c9" stroke-width="3.6" stroke-linecap="round"/>
<line x1="769.45" y1="627.93" x2="773.77" y2="620.44" stroke="#7d7d7d" stroke-width="3.6" stroke-linecap="round"/>
<line x1="773.77" y1="620.44" x2="778.1" y2="612.95" stroke="#2330c9" stroke-width="3.6" stroke-linecap="round"/>
<line x1="742.62" y1="547.56" x2="743.06" y2="535.31" stroke="#e6bf31" stroke-width="3" stroke-linecap="round"/>
<line x1="743.06" y1="535.31" x2="743.5" y2="523.05" stroke="#2330c9" stroke-width="3" stroke-linecap="round"/>
<line x1="742.62" y1="547.56" x2="730.08" y2="542.8" stroke="#e6bf31" stroke-width="3" stroke-linecap="round"/>
<line x1="730.08" y1="542.8" x2="717.55" y2="538.04" stroke="#2330c9" stroke-width="3" stroke-linecap="round"/>
<line x1="770.33" y1="545.49" x2="774.21" y2="534.27" stroke="#e6bf31" stroke-width="3" stroke-linecap="round"/>
<line x1="774.21" y1="534.27" x2="778.1" y2="523.05" stroke="#2330c9" stroke-width="3" stroke-linecap="round"/>
<line x1="770.33" y1="545.49" x2="782.86" y2="549.25" stroke="#e6bf31" stroke-width="3" stroke-linecap="round"/>
<line x1="782.86" y1="549.25" x2="795.4" y2="553.02" stroke="#2330c9" stroke-width="3" stroke-linecap="round"/>
<line x1="733.09" y1="574.93" x2="716.67" y2="571.46" stroke="#e6bf31" stroke-width="3" stroke-linecap="round"/>
<line x1="716.67" y1="571.46" x2="700.25" y2="568" stroke="#2330c9" stroke-width="3" stroke-linecap="round"/>
<line x1="733.09" y1="574.93" x2="725.32" y2="586.45" stroke="#e6bf31" stroke-width="3" stroke-linecap="round"/>
<line x1="725.32" y1="586.45" x2="717.55" y2="597.96" stroke="#2330c9" stroke-width="3" stroke-linecap="round"/>
<line x1="759.93" y1="590.86" x2="751.72" y2="601.9" stroke="#e6bf31" stroke-width="3" stroke-linecap="round"/>
<line x1="751.72" y1="601.9" x2="743.5" y2="612.95" stroke="#2330c9" stroke-width="3" stroke-linecap="round"/>
<line x1="759.93" y1="590.86" x2="769.02" y2="601.9" stroke="#e6bf31" stroke-width="3" stroke-linecap="round"/>
<line x1="769.02" y1="601.9" x2="778.1" y2="612.95" stroke="#2330c9" stroke-width="3" stroke-linecap="round"/>
<line x1="782.45" y1="570.94" x2="788.92" y2="576.96" stroke="#e6bf31" stroke-width="3" stroke-linecap="round"/>
<line x1="788.92" y1="576.96" x2="795.4" y2="582.98" stroke="#2330c9" stroke-width="3" stroke-linecap="round"/>
<line x1="811.89" y1="566.61" x2="803.65" y2="559.82" stroke="#e6bf31" stroke-width="3" stroke-linecap="round"/>
<line x1="803.65" y1="559.82" x2="795.4" y2="553.02" stroke="#2330c9" stroke-width="3" stroke-linecap="round"/>
<line x1="811.89" y1="566.61" x2="820.95" y2="559.82" stroke="#e6bf31" stroke-width="3" stroke-linecap="round"/>
<line x1="820.95" y1="559.82" x2="830" y2="553.02" stroke="#2330c9" stroke-width="3" stroke-linecap="round"/>
<line x1="811.89" y1="566.61" x2="803.65" y2="574.8" stroke="#e6bf31" stroke-width="3" stroke-linecap="round"/>
<line x1="803.65" y1="574.8" x2="795.4" y2="582.98" stroke="#2330c9" stroke-width="3" stroke-linecap="round"/>
<line x1="811.89" y1="566.61" x2="820.95" y2="574.8" stroke="#e6bf31" stroke-width="3" stroke-linecap="round"/>
<line x1="820.95" y1="574.8" x2="830" y2="582.98" stroke="#2330c9" stroke-width="3" stroke-linecap="round"/>
<line x1="742.62" y1="547.56" x2="770.33" y2="545.49" stroke="#e6bf31" stroke-width="3.5"/>
<line x1="742.62" y1="547.56" x2="733.09" y2="574.93" stroke="#e6bf31" stroke-width="3.5"/>
<line x1="742.62" y1="547.56" x2="758.2" y2="566.61" stroke="#e6bf31" stroke-width="3.5"/>
<line x1="770.33" y1="545.49" x2="758.2" y2="566.61" stroke="#e6bf31" stroke-width="3.5"/>
<line x1="770.33" y1="545.49" x2="782.45" y2="570.94" stroke="#e6bf31" stroke-width="3.5"/>
<line x1="733.09" y1="574.93" x2="758.2" y2="566.61" stroke="#e6bf31" stroke-width="3.5"/>
<line x1="733.09" y1="574.93" x2="759.93" y2="590.86" stroke="#e6bf31" stroke-width="3.5"/>
<line x1="758.2" y1="566.61" x2="782.45" y2="570.94" stroke="#e6bf31" stroke-width="3.5"/>
<line x1="758.2" y1="566.61" x2="759.93" y2="590.86" stroke="#e6bf31" stroke-width="3.5"/>
<line x1="782.45" y1="570.94" x2="759.93" y2="590.86" stroke="#e6bf31" stroke-width="3.5"/>
<line x1="782.45" y1="570.94" x2="811.89" y2="566.61" stroke="#e6bf31" stroke-width="3.5"/>
<circle cx="752.15" cy="508.07" r="4" fill="url(#gC)"/>
<circle cx="769.45" cy="508.07" r="4" fill="url(#gC)"/>
<circle cx="726.2" cy="523.05" r="4" fill="url(#gC)"/>
<circle cx="795.4" cy="523.05" r="4" fill="url(#gC)"/>
<circle cx="700.25" cy="538.04" r="4" fill="url(#gC)"/>
<circle cx="804.05" cy="538.04" r="4" fill="url(#gC)"/>
<circle cx="821.35" cy="538.04" r="4" fill="url(#gC)"/>
<circle cx="674.3" cy="553.02" r="4" fill="url(#gC)"/>
<circle cx="691.6" cy="553.02" r="4" fill="url(#gC)"/>
<circle cx="847.3" cy="553.02" r="4" fill="url(#gC)"/>
<circle cx="665.65" cy="568" r="4" fill="url(#gC)"/>
<circle cx="855.95" cy="568" r="4" fill="url(#gC)"/>
<circle cx="674.3" cy="582.98" r="4" fill="url(#gC)"/>
<circle cx="691.6" cy="582.98" r="4" fill="url(#gC)"/>
<circle cx="847.3" cy="582.98" r="4" fill="url(#gC)"/>
<circle cx="700.25" cy="597.96" r="4" fill="url(#gC)"/>
<circle cx="804.05" cy="597.96" r="4" fill="url(#gC)"/>
<circle cx="821.35" cy="597.96" r="4" fill="url(#gC)"/>
<circle cx="726.2" cy="612.95" r="4" fill="url(#gC)"/>
<circle cx="795.4" cy="612.95" r="4" fill="url(#gC)"/>
<circle cx="752.15" cy="627.93" r="4" fill="url(#gC)"/>
<circle cx="769.45" cy="627.93" r="4" fill="url(#gC)"/>
<circle cx="743.5" cy="523.05" r="3.7" fill="url(#gN)"/>
<circle cx="778.1" cy="523.05" r="3.7" fill="url(#gN)"/>
<circle cx="717.55" cy="538.04" r="3.7" fill="url(#gN)"/>
<circle cx="795.4" cy="553.02" r="3.7" fill="url(#gN)"/>
<circle cx="830" cy="553.02" r="3.7" fill="url(#gN)"/>
<circle cx="700.25" cy="568" r="3.7" fill="url(#gN)"/>
<circle cx="795.4" cy="582.98" r="3.7" fill="url(#gN)"/>
<circle cx="830" cy="582.98" r="3.7" fill="url(#gN)"/>
<circle cx="717.55" cy="597.96" r="3.7" fill="url(#gN)"/>
<circle cx="743.5" cy="612.95" r="3.7" fill="url(#gN)"/>
<circle cx="778.1" cy="612.95" r="3.7" fill="url(#gN)"/>
<circle cx="742.62" cy="547.56" r="6" fill="url(#gFe)"/>
<circle cx="770.33" cy="545.49" r="6" fill="url(#gFe)"/>
<circle cx="733.09" cy="574.93" r="6" fill="url(#gFe)"/>
<circle cx="758.2" cy="566.61" r="6" fill="url(#gFe)"/>
<circle cx="782.45" cy="570.94" r="6" fill="url(#gFe)"/>
<circle cx="759.93" cy="590.86" r="6" fill="url(#gFe)"/>
<circle cx="811.89" cy="566.61" r="6" fill="url(#gFe)"/>
<text x="468.9" y="471.3" font-size="18.5" fill="#1414f0" textLength="59.2" lengthAdjust="spacingAndGlyphs">0.92 e</text>
<line x1="508" y1="476.7" x2="540.9" y2="506.7" stroke="#1414f0" stroke-width="1.3"/>
<path d="M540.9 506.7L534.48 504.09L537.71 500.55Z" fill="#1414f0"/>
<text x="587.6" y="469.5" font-size="18.5" fill="#f07f2e" textLength="66" lengthAdjust="spacingAndGlyphs">-1.47 e</text>
<line x1="614.5" y1="475.5" x2="565.2" y2="517" stroke="#f07f2e" stroke-width="1.3"/>
<text x="471.9" y="598.1" font-size="18.5" fill="#1414f0" textLength="59.1" lengthAdjust="spacingAndGlyphs">0.92 e</text>
<line x1="515.8" y1="578.6" x2="540.9" y2="545.6" stroke="#1414f0" stroke-width="1.3"/>
<path d="M540.9 545.6L538.88 552.23L535.05 549.32Z" fill="#1414f0"/>
<text x="679.8" y="509.9" font-size="18.5" fill="#1414f0" textLength="57.8" lengthAdjust="spacingAndGlyphs">1.02 e</text>
<line x1="716.7" y1="514.6" x2="788.6" y2="546.7" stroke="#1414f0" stroke-width="1.3"/>
<path d="M788.6 546.7L781.69 546.24L783.64 541.86Z" fill="#1414f0"/>
<text x="801" y="520.3" font-size="18.5" fill="#f07f2e" textLength="66.5" lengthAdjust="spacingAndGlyphs">-1.33 e</text>
<line x1="836.7" y1="526.8" x2="814.5" y2="561.4" stroke="#f07f2e" stroke-width="1.3"/>
<text x="665.5" y="636.8" font-size="18.5" fill="#1414f0" textLength="57.4" lengthAdjust="spacingAndGlyphs">1.00 e</text>
<line x1="724.5" y1="628.1" x2="786.8" y2="588.8" stroke="#1414f0" stroke-width="1.3"/>
<path d="M786.8 588.8L782.58 594.3L780.02 590.24Z" fill="#1414f0"/>
<text x="523.6" y="627.7" font-size="20.5" fill="#222" textLength="77.2" lengthAdjust="spacingAndGlyphs">Fe-N<tspan font-size="13.5" dy="4.5">4</tspan><tspan dy="-4.5">​</tspan>-C</text>
<text x="706.8" y="669.4" font-size="20.5" fill="#222" textLength="117" lengthAdjust="spacingAndGlyphs">Fe-N<tspan font-size="13.5" dy="4.5">4</tspan><tspan dy="-4.5">​</tspan>-C/Fe<tspan font-size="13.5" dy="4.5">6</tspan><tspan dy="-4.5">​</tspan></text>
<text x="473.1" y="427.6" font-size="33" fill="#000">e</text>
</g>
<g id="panel_f">
<rect x="905.8" y="448.1" width="370.9" height="168.1" fill="url(#fbg)"/>
<rect x="905.8" y="616.2" width="370.9" height="57.9" fill="#d9d9d9"/>
<path d="M983.93 523.79Q964.33 510.97 953 492Q959.84 514.29 974.47 530.81Z" fill="url(#fc1)"/>
<circle cx="979.2" cy="527.3" r="6.2" fill="url(#fgr)"/>
<path d="M1033.44 530.66Q1047.95 513.09 1054.5 490Q1043.37 509.91 1023.76 523.94Z" fill="url(#fc2)"/>
<circle cx="1028.6" cy="527.3" r="6.2" fill="url(#fgr)"/>
<path d="M965.32 561.39Q943.88 550.2 930 532Q939.79 554 956.68 569.41Z" fill="url(#fc3)"/>
<circle cx="961" cy="565.4" r="6.2" fill="url(#fgr)"/>
<path d="M955.56 594.23Q934.58 589.34 919.5 576Q931.49 593.76 949.04 603.57Z" fill="url(#fc4)"/>
<circle cx="952.3" cy="598.9" r="6" fill="url(#fgr)"/>
<path d="M1024 594C1052 590 1066 572 1070 552C1074 524 1095 511 1120 510.5" fill="none" stroke="#777" stroke-width="1.1" stroke-dasharray="3.2 2.8"/>
<path d="M1126.6 516C1126.6 532 1130 545 1140 553C1158 562 1172 572 1174.5 604" fill="none" stroke="#777" stroke-width="1.1" stroke-dasharray="3.2 2.8"/>
<circle cx="1126.4" cy="509.7" r="6.4" fill="url(#fgr)"/>
<circle cx="1007.8" cy="609.1" r="6.2" fill="url(#fau)"/>
<circle cx="998.97" cy="604.95" r="6.2" fill="url(#fau)"/>
<circle cx="998.97" cy="596.65" r="6.2" fill="url(#fau)"/>
<circle cx="1007.8" cy="592.5" r="6.2" fill="url(#fau)"/>
<circle cx="1016.63" cy="596.65" r="6.2" fill="url(#fau)"/>
<circle cx="1016.63" cy="604.95" r="6.2" fill="url(#fau)"/>
<circle cx="1007.8" cy="600.3" r="6.4" fill="url(#fau)"/>
<circle cx="1175.2" cy="610.2" r="6.1" fill="url(#fau)"/>
<path d="M1060.8 557.5L1064.3 556L1069.3 573.2L1075.8 550.6" fill="none" stroke="#e0111b" stroke-width="2.2" stroke-linejoin="miter" stroke-linecap="butt"/>
<path d="M1126.3 535.4L1138.6 548M1138.6 535.4L1126.3 548" fill="none" stroke="#e0111b" stroke-width="2.2"/>
<text x="1175.6" y="485.1" font-size="20" fill="#1a1a1a" textLength="86.9" lengthAdjust="spacingAndGlyphs">Seawater</text>
<text x="991.5" y="537.5" font-size="15.5" fill="#111" textLength="21.5" lengthAdjust="spacingAndGlyphs">Cl<tspan font-size="12" dy="-6">-</tspan><tspan dy="6">​</tspan></text>
<text x="1047.5" y="596.7" font-size="16.5" fill="#111" textLength="122.3" lengthAdjust="spacingAndGlyphs">ΔG<tspan font-size="11" dy="3.5">Cl*</tspan><tspan dy="-3.5">​</tspan> = -2.37 eV</text>
<text x="1146.2" y="555.1" font-size="16.5" fill="#111" textLength="121.5" lengthAdjust="spacingAndGlyphs">ΔG<tspan font-size="11" dy="3.5">Cl*</tspan><tspan dy="-3.5">​</tspan> = -0.97 eV</text>
<text x="983.2" y="636.7" font-size="16" fill="#1a1a1a" textLength="56.6" lengthAdjust="spacingAndGlyphs">Fe ACs</text>
<text x="1155.1" y="636.7" font-size="16" fill="#1a1a1a" textLength="56.4" lengthAdjust="spacingAndGlyphs">Fe SAs</text>
<text x="1070.5" y="661.4" font-size="20" fill="#1a1a1a" textLength="72.1" lengthAdjust="spacingAndGlyphs">Support</text>
<text x="881.4" y="428" font-size="33" fill="#000">f</text>
</g>
<g id="panel_g">
<line x1="93.5" y1="746.4" x2="93.5" y2="993.4" stroke="#222" stroke-width="1.2"/>
<line x1="416.8" y1="746.4" x2="416.8" y2="993.4" stroke="#222" stroke-width="1.2"/>
<line x1="88.5" y1="746.4" x2="417.4" y2="746.4" stroke="#111" stroke-width="1.8"/>
<line x1="88.5" y1="993.4" x2="417.4" y2="993.4" stroke="#111" stroke-width="1.8"/>
<line x1="88.5" y1="993.5" x2="93.5" y2="993.5" stroke="#111" stroke-width="1.3"/>
<line x1="90.7" y1="975.85" x2="93.5" y2="975.85" stroke="#111" stroke-width="1.1"/>
<text x="75.6" y="999.6" font-size="17.5" fill="#000" text-anchor="end">-1</text>
<line x1="88.5" y1="958.2" x2="93.5" y2="958.2" stroke="#111" stroke-width="1.3"/>
<line x1="90.7" y1="940.55" x2="93.5" y2="940.55" stroke="#111" stroke-width="1.1"/>
<text x="75.6" y="964.3" font-size="17.5" fill="#000" text-anchor="end">0</text>
<line x1="88.5" y1="922.9" x2="93.5" y2="922.9" stroke="#111" stroke-width="1.3"/>
<line x1="90.7" y1="905.25" x2="93.5" y2="905.25" stroke="#111" stroke-width="1.1"/>
<text x="75.6" y="929" font-size="17.5" fill="#000" text-anchor="end">1</text>
<line x1="88.5" y1="887.6" x2="93.5" y2="887.6" stroke="#111" stroke-width="1.3"/>
<line x1="90.7" y1="869.95" x2="93.5" y2="869.95" stroke="#111" stroke-width="1.1"/>
<text x="75.6" y="893.7" font-size="17.5" fill="#000" text-anchor="end">2</text>
<line x1="88.5" y1="852.3" x2="93.5" y2="852.3" stroke="#111" stroke-width="1.3"/>
<line x1="90.7" y1="834.65" x2="93.5" y2="834.65" stroke="#111" stroke-width="1.1"/>
<text x="75.6" y="858.4" font-size="17.5" fill="#000" text-anchor="end">3</text>
<line x1="88.5" y1="817" x2="93.5" y2="817" stroke="#111" stroke-width="1.3"/>
<line x1="90.7" y1="799.35" x2="93.5" y2="799.35" stroke="#111" stroke-width="1.1"/>
<text x="75.6" y="823.1" font-size="17.5" fill="#000" text-anchor="end">4</text>
<line x1="88.5" y1="781.7" x2="93.5" y2="781.7" stroke="#111" stroke-width="1.3"/>
<line x1="90.7" y1="764.05" x2="93.5" y2="764.05" stroke="#111" stroke-width="1.1"/>
<text x="75.6" y="787.8" font-size="17.5" fill="#000" text-anchor="end">5</text>
<line x1="88.5" y1="746.4" x2="93.5" y2="746.4" stroke="#111" stroke-width="1.3"/>
<text x="75.6" y="752.5" font-size="17.5" fill="#000" text-anchor="end">6</text>
<line x1="125.6" y1="993.4" x2="125.6" y2="997.9" stroke="#111" stroke-width="1.3"/>
<line x1="190.3" y1="993.4" x2="190.3" y2="997.9" stroke="#111" stroke-width="1.3"/>
<line x1="254.9" y1="993.4" x2="254.9" y2="997.9" stroke="#111" stroke-width="1.3"/>
<line x1="319.6" y1="993.4" x2="319.6" y2="997.9" stroke="#111" stroke-width="1.3"/>
<line x1="384.3" y1="993.4" x2="384.3" y2="997.9" stroke="#111" stroke-width="1.3"/>
<line x1="142.9" y1="785.23" x2="173.2" y2="822.3" stroke="#f2a81d" stroke-width="1.5" stroke-dasharray="1.6 1.6"/>
<line x1="144.1" y1="785.23" x2="174.4" y2="815.94" stroke="#22a7f0" stroke-width="1.5" stroke-dasharray="1.6 1.6" stroke-dashoffset="1.6"/>
<line x1="207" y1="822.3" x2="238.1" y2="888.31" stroke="#f2a81d" stroke-width="1.5" stroke-dasharray="1.6 1.6"/>
<line x1="208.2" y1="815.94" x2="239.3" y2="886.54" stroke="#22a7f0" stroke-width="1.5" stroke-dasharray="1.6 1.6" stroke-dashoffset="1.6"/>
<line x1="271.9" y1="888.31" x2="302.2" y2="927.84" stroke="#f2a81d" stroke-width="1.5" stroke-dasharray="1.6 1.6"/>
<line x1="273.1" y1="886.54" x2="303.4" y2="923.25" stroke="#22a7f0" stroke-width="1.5" stroke-dasharray="1.6 1.6" stroke-dashoffset="1.6"/>
<line x1="336.8" y1="927.84" x2="367.1" y2="958.2" stroke="#f2a81d" stroke-width="1.5" stroke-dasharray="1.6 1.6"/>
<line x1="338" y1="923.25" x2="368.3" y2="958.2" stroke="#22a7f0" stroke-width="1.5" stroke-dasharray="1.6 1.6" stroke-dashoffset="1.6"/>
<line x1="108.2" y1="785.23" x2="142.9" y2="785.23" stroke="#f2a81d" stroke-width="2.3"/>
<line x1="173.2" y1="815.94" x2="207" y2="815.94" stroke="#22a7f0" stroke-width="2.1"/>
<line x1="173.2" y1="822.3" x2="207" y2="822.3" stroke="#f2a81d" stroke-width="2.3"/>
<line x1="238.1" y1="886.54" x2="271.9" y2="886.54" stroke="#22a7f0" stroke-width="2.1"/>
<line x1="238.1" y1="888.81" x2="271.9" y2="888.81" stroke="#f2a81d" stroke-width="2.3"/>
<line x1="302.2" y1="923.25" x2="336.8" y2="923.25" stroke="#22a7f0" stroke-width="2.1"/>
<line x1="302.2" y1="927.84" x2="336.8" y2="927.84" stroke="#f2a81d" stroke-width="2.3"/>
<line x1="367.1" y1="958.2" x2="401.4" y2="958.2" stroke="#f2a81d" stroke-width="2.3"/>
<text x="109.8" y="817" font-size="17.5" fill="#22a7f0" textLength="44.5" lengthAdjust="spacingAndGlyphs">-1.07</text>
<text x="170.5" y="802.8" font-size="17.5" fill="#22a7f0" textLength="42.1" lengthAdjust="spacingAndGlyphs">-0.91</text>
<text x="167.9" y="861.7" font-size="17.5" fill="#22a7f0" textLength="44.4" lengthAdjust="spacingAndGlyphs">-1.87</text>
<text x="235.4" y="876.7" font-size="17.5" fill="#22a7f0" textLength="43.9" lengthAdjust="spacingAndGlyphs">-1.99</text>
<text x="238.8" y="923.6" font-size="17.5" fill="#22a7f0" textLength="43.6" lengthAdjust="spacingAndGlyphs">-1.13</text>
<text x="300" y="910.8" font-size="17.5" fill="#22a7f0" textLength="43.9" lengthAdjust="spacingAndGlyphs">-1.04</text>
<text x="302.9" y="957.4" font-size="17.5" fill="#22a7f0" textLength="44.1" lengthAdjust="spacingAndGlyphs">-0.86</text>
<text x="364.9" y="943.2" font-size="17.5" fill="#22a7f0" textLength="43.1" lengthAdjust="spacingAndGlyphs">-0.98</text>
<line x1="261" y1="761.6" x2="295.6" y2="761.6" stroke="#f2a81d" stroke-width="2.2"/>
<line x1="261" y1="788.9" x2="295.6" y2="788.9" stroke="#22a7f0" stroke-width="2.2"/>
<text x="304.3" y="767.7" font-size="18.5" fill="#000" textLength="69.9" lengthAdjust="spacingAndGlyphs">Fe-N<tspan font-size="12" dy="4">4</tspan><tspan dy="-4">​</tspan>-C</text>
<text x="304.3" y="794.9" font-size="18.5" fill="#000" textLength="105.4" lengthAdjust="spacingAndGlyphs">Fe-N<tspan font-size="12" dy="4">4</tspan><tspan dy="-4">​</tspan>-C/Fe<tspan font-size="12" dy="4">6</tspan><tspan dy="-4">​</tspan></text>
<text x="115.4" y="1031" font-size="21" fill="#000" textLength="26.8" lengthAdjust="spacingAndGlyphs">O<tspan font-size="14" dy="5">2</tspan><tspan dy="-5">​</tspan></text>
<text x="165.6" y="1031" font-size="21" fill="#000" textLength="60.5" lengthAdjust="spacingAndGlyphs">OOH*</text>
<text x="244.9" y="1031" font-size="21" fill="#000" textLength="26.8" lengthAdjust="spacingAndGlyphs">O*</text>
<text x="301.2" y="1031" font-size="21" fill="#000" textLength="42.7" lengthAdjust="spacingAndGlyphs">OH*</text>
<text x="366.1" y="1029.4" font-size="21" fill="#000" textLength="41.9" lengthAdjust="spacingAndGlyphs">H<tspan font-size="14" dy="5">2</tspan><tspan dy="-5">​</tspan>O</text>
<text x="0" y="0" font-size="23" fill="#000" text-anchor="middle" textLength="177" lengthAdjust="spacingAndGlyphs" transform="translate(45.8,860.3) rotate(-90)">Free energy (eV)</text>
<text x="25" y="708" font-size="33" fill="#000">g</text>
</g>
<g id="panel_h">
<path d="M530.81 801L530.81 801L531.87 800.97L532.92 800.95L533.97 800.92L535.02 800.89L536.07 800.86L537.12 800.84L538.17 800.81L539.22 800.78L540.27 800.75L541.32 800.73L542.37 800.7L543.42 800.67L544.47 800.65L545.52 800.62L546.58 800.59L547.63 800.56L548.68 800.54L549.73 800.51L550.78 800.48L551.83 800.45L552.88 800.43L553.93 800.4L555.09 800.74L556.24 799.84L557.4 799.85L558.55 800.41L559.71 800.03L560.86 800.02L562.02 799.66L563.18 799.8L564.23 799.3L565.28 800.27L566.33 800.32L567.38 798.97L568.43 799.55L569.48 798.92L570.53 800.16L571.58 799.32L572.63 798.74L573.68 799.58L574.73 799L575.89 794.93L577.04 793L578.66 789L579.93 789.54L581.21 792L582.36 796.38L583.52 798.5L584.6 799.55L585.67 798.41L586.75 797.53L587.83 798.76L588.91 799.13L589.99 798.67L591.07 799.55L592.15 799.12L593.23 798.5L594.38 798.56L595.54 798.34L596.69 798.88L597.85 798.81L599 798.76L600.16 798L601.32 797.7L602.47 797.7L603.63 797.95L604.78 795.59L605.94 796L607.09 795.46L608.25 794.86L609.41 795.55L610.56 793.22L611.72 794L612.87 791.89L614.03 792.41L615.18 790.65L616.34 789L617.73 786.47L619.11 784.49L620.5 783L622.12 777L623.27 779.45L624.43 784L625.59 785.85L626.74 786.54L627.9 789L629.05 789.59L630.21 791.47L631.37 792L632.52 789.79L633.68 788L634.83 789.58L635.99 793L637.14 792.84L638.3 794.32L639.46 795L640.61 792.79L641.77 791L642.92 794.12L644.08 795L645.23 796.28L646.39 795.62L647.55 797L648.7 797.54L649.86 798.45L651.01 798L652.17 797.38L653.32 796.51L654.48 796.08L655.64 796L656.79 796.97L657.95 797.48L659.1 798L660.26 796.48L661.41 795L662.57 787.33L663.73 781L664.88 777.95L666.04 775L667.66 779L668.81 771.76L669.97 764L671.12 771.52L672.28 779L673.78 786.13L675.28 791L676.44 792.9L677.6 792.11L678.75 792.24L679.91 793.98L681.06 795L682.22 795.59L683.37 796.46L684.53 796L685.69 792.99L686.84 790L688 791.84L689.15 796L690.31 795.35L691.46 795.9L692.62 795.14L693.78 796L694.93 792.14L696.09 787L697.24 783.47L698.4 780L699.55 783.41L700.71 789L701.87 790.81L703.02 793.1L704.18 795L705.33 794.89L706.49 793.55L707.64 793L708.8 793.57L709.96 797.52L711.11 798L712.27 797.87L713.42 798.38L714.58 798.87L715.74 800L716.89 799.71L718.05 799.65L719.2 800.05L720.36 800.02L721.51 800.22L722.67 800.7L723.83 799.73L724.98 800.2L726.06 800.12L727.14 800.56L728.22 800.19L729.3 800.22L730.37 800.37L731.45 800.38L732.53 800.15L733.61 800.05L734.69 800.07L735.77 800.25L736.85 800.77L737.93 800.52L739 800.59L740.08 800.1L741.16 800.2L742.32 799.1L743.47 798.54L744.63 797.9L745.78 798L746.94 796.74L748.1 797.59L749.25 795.68L750.41 796L751.56 796.21L752.72 798.25L753.87 799.03L755.03 798.5L756.19 799.75L757.34 798.51L758.5 799.69L759.65 800.13L760.81 799.57L761.96 800L763.03 800.21L764.1 800.57L765.17 800.45L766.23 799.96L767.3 800.44L768.37 800.3L769.43 799.72L770.5 800.06L771.57 800.23L772.63 800.03L773.7 800.63L774.77 800.15L775.83 800L776.99 799.15L778.15 798.75L779.3 797L780.46 797.61L781.61 795.37L782.77 796L783.92 798.48L785.08 801L785.08 801Z" fill="#5bc0f5"/>
<path d="M553.93 801L553.93 801L554.98 801.01L556.03 801.03L557.08 801.04L558.13 801.05L559.18 801.07L560.23 801.08L561.28 801.1L562.34 801.11L563.39 801.12L564.44 801.14L565.49 801.15L566.54 801.16L567.59 801.18L568.64 801.19L569.69 801.2L570.74 801.22L571.79 801.23L572.84 801.25L573.89 801.26L574.94 801.27L575.99 801.29L577.04 801.3L578.1 801.31L579.15 801.33L580.2 801.34L581.25 801.35L582.3 801.37L583.35 801.38L584.4 801.4L585.45 801.41L586.5 801.42L587.55 801.44L588.6 801.45L589.65 801.46L590.7 801.48L591.75 801.49L592.81 801.5L593.86 801.52L594.91 801.53L595.96 801.55L597.01 801.56L598.06 801.57L599.11 801.59L600.16 801.6L601.25 802.04L602.34 802.06L603.42 801.26L604.51 801.3L605.6 802.04L606.69 801.97L607.77 801.93L608.86 801.6L609.95 801.92L611.04 801.94L612.13 801.94L613.21 801.53L614.3 801.83L615.39 801.82L616.48 802.19L617.56 802.51L618.65 802L619.81 803.51L620.96 803.75L622.12 804.5L623.27 803.56L624.43 802.48L625.59 802L626.74 801.49L627.9 801.48L629.05 801.96L630.21 801.8L631.37 801.87L632.52 802.43L633.68 802.03L634.83 802L635.99 802.58L637.14 802.58L638.3 802.62L639.46 804L640.61 803.29L641.77 802.62L642.92 802.89L644.08 802.5L645.13 803.23L646.18 802.83L647.23 802.19L648.28 803.25L649.33 803.16L650.38 803.12L651.43 803.43L652.48 803.27L653.53 803.36L654.59 802.72L655.64 803L656.79 805.3L657.95 806.59L659.1 807L660.26 807.32L661.41 809L662.57 807.51L663.73 805L664.88 804.93L666.04 803.92L667.19 803.56L668.35 802.98L669.5 802.5L670.56 803.07L671.61 802.5L672.66 802.95L673.71 802.3L674.76 803.02L675.81 803.04L676.86 802.45L677.91 802.59L678.96 803.07L680.01 802.8L681.06 802.5L682.22 803.23L683.37 803.44L684.53 804.4L685.69 805.5L686.84 804.9L688 802.88L689.15 802.5L690.31 803.05L691.46 802.19L692.62 803.06L693.78 802.24L694.93 803.12L696.09 802.78L697.24 802.5L698.4 811.76L699.55 821L701.4 854L703.02 826L704.87 809L706.49 815L707.64 822.04L708.8 829L709.96 832L711.11 821.8L712.27 811L713.42 807.18L714.58 803L715.74 803.3L716.89 803.75L718.05 805L719.2 804.36L720.36 804.51L721.51 803L722.67 803.52L723.83 802.79L724.98 804.54L726.14 804.65L727.29 804.5L728.45 804.82L729.6 802.93L730.76 803.39L731.92 802.5L732.98 801.87L734.05 802.62L735.12 802.09L736.18 802L737.25 802.78L738.32 801.78L739.38 802.26L740.45 802.62L741.52 801.85L742.58 801.78L743.65 802.51L744.72 801.95L745.78 802L746.94 802.31L748.1 801.58L749.25 802.02L750.41 801.85L751.56 802.53L752.72 801.84L753.87 803.04L755.03 802.5L756.19 803.8L757.34 807L758.5 808.46L759.65 809L760.81 806.54L761.96 806L763.12 805.84L764.28 807.29L765.43 807L766.59 808.31L767.74 810.37L768.9 813L770.06 814.72L771.21 815.44L772.37 817L773.52 818.42L774.68 822.65L775.83 824L776.99 817.8L778.15 813L779.3 810.57L780.46 810L782.08 817L783.23 807L784.39 801L784.39 801Z" fill="#5bc0f5"/>
<path d="M512.32 926.2L512.32 926.2L513.41 926.16L514.5 926.12L515.59 926.08L516.67 926.04L517.76 925.99L518.85 925.95L519.94 925.91L521.03 925.87L522.11 925.83L523.2 925.79L524.29 925.75L525.38 925.71L526.46 925.66L527.55 925.62L528.64 925.96L529.73 925.48L530.81 925.5L531.97 925.61L533.13 925.13L534.28 924.98L535.44 925.9L536.59 925.93L537.75 924.23L538.91 925.3L540.06 924.7L541.22 925.14L542.37 923.16L543.53 924.28L544.68 923.13L545.84 923.93L547 923.7L548.15 922.75L549.31 923.82L550.46 922.2L551.62 919.27L552.77 917.2L553.93 916.52L555.09 918.2L557.17 904.2L558.55 896.2L560.4 914.2L561.79 917.13L563.18 920.2L564.33 919.09L565.49 918.98L566.64 920.6L567.8 918.04L568.95 918.24L570.11 918.2L571.27 919.09L572.42 920.2L573.58 917.78L574.73 919.2L575.89 918.62L577.04 917.17L578.2 917.2L579.36 910.49L580.51 906.2L582.36 878.2L583.29 870.2L584.9 896.2L586.18 904.51L587.45 914.2L589.3 900.2L590.91 895.2L592.53 890.2L594.15 879.2L595.54 886.2L596.69 895.85L597.85 908.2L599 913.04L600.16 917.2L601.32 916.49L602.47 917.88L603.63 916.56L604.78 918.2L605.94 917.15L607.09 919.82L608.25 919.86L609.41 919.77L610.56 917.54L611.72 919.2L612.87 919.57L614.03 919.13L615.18 920.34L616.34 919.84L617.5 920.4L618.65 920.2L619.81 920.84L620.96 920.26L622.12 920.43L623.27 919.57L624.43 920.45L625.59 921.2L626.74 919.16L627.9 918.73L629.05 919.2L630.21 918.96L631.37 921.32L632.52 923.2L633.68 924.34L634.83 922.17L635.99 921.9L637.14 922.17L638.3 923.3L639.46 922.92L640.61 924.51L641.77 923.7L642.92 922.61L644.08 923.31L645.23 924.13L646.39 924.76L647.55 922.15L648.7 923.2L649.86 921.38L651.01 924.02L652.17 921.49L653.32 922.2L654.48 921.15L655.64 920.65L656.79 918.2L657.95 920.86L659.1 922.2L660.26 922.17L661.41 922.81L662.57 924.7L663.73 925.68L664.88 924.45L666.04 925.68L667.19 924.23L668.35 925.07L669.5 923.88L670.66 923.66L671.82 924.7L672.97 923.81L674.13 921.35L675.28 922.68L676.44 921.2L677.6 919.55L678.75 915.2L679.91 918.38L681.06 922.2L682.22 921.7L683.37 918.2L684.53 914.67L685.69 909.2L686.84 913.99L688 918.2L689.15 919.85L690.31 922.2L691.46 924.05L692.62 925.05L693.78 923.58L694.93 925.2L696.09 925.31L697.24 923.71L698.4 923.51L699.55 924.2L701.17 908.2L702.33 897.2L703.72 916.2L705.33 924.7L706.49 924.96L707.64 924.79L708.8 924.66L709.96 924.39L711.11 924.7L712.27 924.65L713.42 924.89L714.58 924.93L715.74 924.56L716.89 925.44L718.05 925.6L719.11 925.66L720.18 925.17L721.25 925.87L722.31 925.73L723.38 924.59L724.45 925.29L725.51 925.19L726.58 926L727.65 925.33L728.71 924.99L729.78 925.98L730.85 924.83L731.92 925L733.07 924.94L734.23 926L735.38 925.33L736.54 925.7L737.69 925.83L738.85 925.95L740.01 926.08L741.16 926.2L741.16 926.2Z" fill="#f6ab7d"/>
<path d="M553.93 926.2L553.93 926.2L554.98 926.23L556.03 926.25L557.08 926.28L558.13 926.31L559.18 926.34L560.23 926.36L561.28 926.39L562.34 926.42L563.39 926.45L564.44 926.47L565.49 926.5L566.54 926.53L567.59 926.55L568.64 926.58L569.69 926.61L570.74 926.64L571.79 926.66L572.84 926.69L573.89 926.72L574.94 926.75L575.99 926.77L577.04 926.8L578.2 927.31L579.36 928.7L580.51 927.1L581.67 926.8L582.76 926.8L583.85 926.8L584.94 926.8L586.03 926.8L587.13 926.8L588.22 926.8L589.31 926.8L590.4 926.8L591.49 926.8L592.58 926.8L593.67 926.8L594.77 926.8L595.86 926.8L596.95 926.8L598.04 926.8L599.13 926.8L600.22 926.8L601.32 926.8L602.47 927.58L603.63 928.7L604.78 927.18L605.94 926.8L607.02 926.4L608.11 926.74L609.19 927.35L610.27 927.24L611.36 927.23L612.44 926.62L613.52 927.02L614.61 926.73L615.69 926.63L616.77 926.57L617.86 926.72L618.94 927.64L620.02 927.54L621.11 927.55L622.19 927.57L623.27 927.2L624.33 926.87L625.38 927.11L626.43 927.66L627.48 927.92L628.53 928.22L629.58 928.37L630.63 927.13L631.68 928.11L632.73 928.33L633.78 928.12L634.83 928.2L635.88 927.58L636.93 928.15L637.98 927.41L639.04 929.03L640.09 928.9L641.14 928.29L642.19 927.82L643.24 928.99L644.29 928.34L645.34 928.93L646.39 928.2L647.55 929.17L648.7 928.72L649.86 928.75L651.01 929.2L652.17 931.44L653.32 933.03L654.48 935.2L656.1 937.2L657.6 933.39L659.1 931.2L660.26 930.07L661.41 930.62L662.57 929.2L663.73 928.1L664.88 928.11L666.04 929.5L667.19 929.2L668.35 928.43L669.5 928.78L670.66 928.39L671.82 928.2L672.97 927.75L674.13 928.72L675.28 927.21L676.44 927.4L677.6 926.94L678.75 927.2L679.81 927.37L680.87 926.89L681.93 926.99L682.99 927.49L684.05 926.93L685.11 927.23L686.17 927.66L687.23 926.62L688.29 926.57L689.35 926.77L690.4 927.44L691.46 927.25L692.52 926.76L693.58 926.87L694.64 926.67L695.7 927.02L696.76 926.49L697.82 927.29L698.88 927.53L699.94 927.59L701 927.31L702.06 927.57L703.12 926.43L704.18 927L705.33 926.9L706.49 928.01L707.64 927.94L708.8 927.7L709.96 927.67L711.11 928.73L712.27 928.3L713.42 928.81L714.58 927.91L715.74 927.81L716.89 928.46L718.05 928.7L719.2 927.99L720.36 928.67L721.51 930.18L722.67 929.2L723.83 929.3L724.98 929.02L726.14 929.61L727.29 931.2L728.45 931.41L729.6 933.2L730.76 931.38L731.92 928.2L733.07 927.82L734.23 927.58L735.38 927.14L736.54 928.48L737.69 927.46L738.85 927.02L740.01 926.71L741.16 927.2L742.32 930.2L743.47 931.63L744.63 935.2L746.48 961.2L748.1 989.2L749.25 988.4L750.41 989.2L751.56 946.2L753.18 932.2L755.03 937.2L756.88 946.2L758.04 955.2L759.08 945.12L760.12 934.2L761.5 932.2L762.66 966.2L763.81 989.2L765.2 988.36L766.59 989.2L767.74 961.2L769.36 948.2L771.21 940.2L772.37 943.6L773.52 949.2L775.37 931.2L776.53 934.68L777.68 938.2L779.3 954.2L780.92 964.2L782.77 938.2L783.92 932.85L785.08 928.7L786.24 930.13L787.39 929.2L789.01 931.2L790.17 926.2L790.17 926.2Z" fill="#f6ab7d"/>
<line x1="648.47" y1="739" x2="648.47" y2="801" stroke="#29abf0" stroke-width="1.4" stroke-dasharray="4.5 3"/>
<line x1="715.27" y1="801" x2="715.27" y2="863.4" stroke="#29abf0" stroke-width="1.4" stroke-dasharray="4.5 3"/>
<line x1="604.09" y1="863.4" x2="604.09" y2="926.2" stroke="#f59a62" stroke-width="1.4" stroke-dasharray="4.5 3"/>
<line x1="742.32" y1="926.2" x2="742.32" y2="989" stroke="#f59a62" stroke-width="1.4" stroke-dasharray="4.5 3"/>
<rect x="507.7" y="739" width="323.6" height="250" fill="none" stroke="#222" stroke-width="1.5"/>
<line x1="507.7" y1="801" x2="831.3" y2="801" stroke="#111" stroke-width="1.4"/>
<line x1="507.7" y1="863.4" x2="831.3" y2="863.4" stroke="#222" stroke-width="1.4"/>
<line x1="507.7" y1="926.2" x2="831.3" y2="926.2" stroke="#222" stroke-width="2.2"/>
<line x1="507.7" y1="863.4" x2="507.7" y2="867.9" stroke="#222" stroke-width="1.2"/>
<line x1="507.7" y1="989" x2="507.7" y2="993.5" stroke="#222" stroke-width="1.3"/>
<text x="507.2" y="1014.2" font-size="17.5" fill="#000" text-anchor="middle" textLength="26.4" lengthAdjust="spacingAndGlyphs">-10</text>
<line x1="530.81" y1="863.4" x2="530.81" y2="866" stroke="#222" stroke-width="1"/>
<line x1="530.81" y1="989" x2="530.81" y2="991.6" stroke="#222" stroke-width="1"/>
<line x1="553.93" y1="863.4" x2="553.93" y2="867.9" stroke="#222" stroke-width="1.2"/>
<line x1="553.93" y1="989" x2="553.93" y2="993.5" stroke="#222" stroke-width="1.3"/>
<text x="553.43" y="1014.2" font-size="17.5" fill="#000" text-anchor="middle" textLength="16" lengthAdjust="spacingAndGlyphs">-8</text>
<line x1="577.04" y1="863.4" x2="577.04" y2="866" stroke="#222" stroke-width="1"/>
<line x1="577.04" y1="989" x2="577.04" y2="991.6" stroke="#222" stroke-width="1"/>
<line x1="600.16" y1="863.4" x2="600.16" y2="867.9" stroke="#222" stroke-width="1.2"/>
<line x1="600.16" y1="989" x2="600.16" y2="993.5" stroke="#222" stroke-width="1.3"/>
<text x="599.66" y="1014.2" font-size="17.5" fill="#000" text-anchor="middle" textLength="16" lengthAdjust="spacingAndGlyphs">-6</text>
<line x1="623.27" y1="863.4" x2="623.27" y2="866" stroke="#222" stroke-width="1"/>
<line x1="623.27" y1="989" x2="623.27" y2="991.6" stroke="#222" stroke-width="1"/>
<line x1="646.39" y1="863.4" x2="646.39" y2="867.9" stroke="#222" stroke-width="1.2"/>
<line x1="646.39" y1="989" x2="646.39" y2="993.5" stroke="#222" stroke-width="1.3"/>
<text x="645.89" y="1014.2" font-size="17.5" fill="#000" text-anchor="middle" textLength="16" lengthAdjust="spacingAndGlyphs">-4</text>
<line x1="669.5" y1="863.4" x2="669.5" y2="866" stroke="#222" stroke-width="1"/>
<line x1="669.5" y1="989" x2="669.5" y2="991.6" stroke="#222" stroke-width="1"/>
<line x1="692.62" y1="863.4" x2="692.62" y2="867.9" stroke="#222" stroke-width="1.2"/>
<line x1="692.62" y1="989" x2="692.62" y2="993.5" stroke="#222" stroke-width="1.3"/>
<text x="692.12" y="1014.2" font-size="17.5" fill="#000" text-anchor="middle" textLength="16" lengthAdjust="spacingAndGlyphs">-2</text>
<line x1="715.74" y1="863.4" x2="715.74" y2="866" stroke="#222" stroke-width="1"/>
<line x1="715.74" y1="989" x2="715.74" y2="991.6" stroke="#222" stroke-width="1"/>
<line x1="738.85" y1="863.4" x2="738.85" y2="867.9" stroke="#222" stroke-width="1.2"/>
<line x1="738.85" y1="989" x2="738.85" y2="993.5" stroke="#222" stroke-width="1.3"/>
<text x="738.35" y="1014.2" font-size="17.5" fill="#000" text-anchor="middle" textLength="10.2" lengthAdjust="spacingAndGlyphs">0</text>
<line x1="761.96" y1="863.4" x2="761.96" y2="866" stroke="#222" stroke-width="1"/>
<line x1="761.96" y1="989" x2="761.96" y2="991.6" stroke="#222" stroke-width="1"/>
<line x1="785.08" y1="863.4" x2="785.08" y2="867.9" stroke="#222" stroke-width="1.2"/>
<line x1="785.08" y1="989" x2="785.08" y2="993.5" stroke="#222" stroke-width="1.3"/>
<text x="784.58" y="1014.2" font-size="17.5" fill="#000" text-anchor="middle" textLength="10.2" lengthAdjust="spacingAndGlyphs">2</text>
<line x1="808.19" y1="863.4" x2="808.19" y2="866" stroke="#222" stroke-width="1"/>
<line x1="808.19" y1="989" x2="808.19" y2="991.6" stroke="#222" stroke-width="1"/>
<line x1="831.31" y1="863.4" x2="831.31" y2="867.9" stroke="#222" stroke-width="1.2"/>
<line x1="831.31" y1="989" x2="831.31" y2="993.5" stroke="#222" stroke-width="1.3"/>
<text x="830.81" y="1014.2" font-size="17.5" fill="#000" text-anchor="middle" textLength="10.2" lengthAdjust="spacingAndGlyphs">4</text>
<text x="651.6" y="760.5" font-size="18" fill="#29abf0" textLength="71.9" lengthAdjust="spacingAndGlyphs">-3.91 eV</text>
<text x="721.2" y="851.7" font-size="18" fill="#29abf0" textLength="73" lengthAdjust="spacingAndGlyphs">-1.02 eV</text>
<text x="608" y="894.4" font-size="18" fill="#f59a62" textLength="71.5" lengthAdjust="spacingAndGlyphs">-5.83 eV</text>
<text x="673" y="979.3" font-size="18" fill="#f59a62" textLength="65.8" lengthAdjust="spacingAndGlyphs">0.15 eV</text>
<text x="515.3" y="852.1" font-size="18" fill="#222" textLength="104.6" lengthAdjust="spacingAndGlyphs">Fe-N<tspan font-size="12" dy="4">4</tspan><tspan dy="-4">​</tspan>-C/Fe<tspan font-size="12" dy="4">6</tspan><tspan dy="-4">​</tspan></text>
<text x="515.3" y="976.5" font-size="18" fill="#222" textLength="69.9" lengthAdjust="spacingAndGlyphs">Fe-N<tspan font-size="12" dy="4">4</tspan><tspan dy="-4">​</tspan>-C</text>
<text x="611.4" y="1043.7" font-size="22" fill="#000" textLength="117" lengthAdjust="spacingAndGlyphs">E - E<tspan font-size="22" dy="4.3">F</tspan><tspan dy="-4.3">​</tspan> (eV)</text>
<text x="0" y="0" font-size="23" fill="#000" text-anchor="middle" textLength="127.5" lengthAdjust="spacingAndGlyphs" transform="translate(478,864.2) rotate(-90)">PDOS (a.u.)</text>
<text x="462.7" y="708" font-size="33" fill="#000">h</text>
</g>
<g id="panel_i">
<rect x="960.1" y="798.17" width="34.9" height="196.43" fill="url(#gor)"/>
<rect x="1002" y="790.01" width="35.6" height="204.59" fill="url(#gbl)"/>
<rect x="1070.5" y="893.33" width="35.7" height="101.27" fill="url(#gor)"/>
<rect x="1113.2" y="891.03" width="35.2" height="103.57" fill="url(#gbl)"/>
<rect x="1182.1" y="951.23" width="34.8" height="43.37" fill="url(#gor)"/>
<rect x="1224.3" y="943.58" width="35.2" height="51.02" fill="url(#gbl)"/>
<rect x="943.6" y="739.5" width="332.9" height="255.1" fill="none" stroke="#222" stroke-width="1.1"/>
<line x1="939.1" y1="994.6" x2="1277" y2="994.6" stroke="#111" stroke-width="1.6"/>
<line x1="939.1" y1="994.6" x2="943.6" y2="994.6" stroke="#111" stroke-width="1.2"/>
<line x1="941.1" y1="969.1" x2="943.6" y2="969.1" stroke="#111" stroke-width="1"/>
<text x="931.3" y="1000.8" font-size="17.5" fill="#000" text-anchor="end">0</text>
<line x1="939.1" y1="943.58" x2="943.6" y2="943.58" stroke="#111" stroke-width="1.2"/>
<line x1="941.1" y1="918.08" x2="943.6" y2="918.08" stroke="#111" stroke-width="1"/>
<text x="931.3" y="949.78" font-size="17.5" fill="#000" text-anchor="end">1</text>
<line x1="939.1" y1="892.56" x2="943.6" y2="892.56" stroke="#111" stroke-width="1.2"/>
<line x1="941.1" y1="867.06" x2="943.6" y2="867.06" stroke="#111" stroke-width="1"/>
<text x="931.3" y="898.76" font-size="17.5" fill="#000" text-anchor="end">2</text>
<line x1="939.1" y1="841.54" x2="943.6" y2="841.54" stroke="#111" stroke-width="1.2"/>
<line x1="941.1" y1="816.04" x2="943.6" y2="816.04" stroke="#111" stroke-width="1"/>
<text x="931.3" y="847.74" font-size="17.5" fill="#000" text-anchor="end">3</text>
<line x1="939.1" y1="790.52" x2="943.6" y2="790.52" stroke="#111" stroke-width="1.2"/>
<line x1="941.1" y1="765.02" x2="943.6" y2="765.02" stroke="#111" stroke-width="1"/>
<text x="931.3" y="796.72" font-size="17.5" fill="#000" text-anchor="end">4</text>
<line x1="939.1" y1="739.5" x2="943.6" y2="739.5" stroke="#111" stroke-width="1.2"/>
<text x="931.3" y="745.7" font-size="17.5" fill="#000" text-anchor="end">5</text>
<line x1="998.7" y1="994.6" x2="998.7" y2="999.1" stroke="#111" stroke-width="1.3"/>
<line x1="1110" y1="994.6" x2="1110" y2="999.1" stroke="#111" stroke-width="1.3"/>
<line x1="1220.8" y1="994.6" x2="1220.8" y2="999.1" stroke="#111" stroke-width="1.3"/>
<rect x="1134.7" y="747.3" width="29.8" height="15" fill="url(#gor)"/>
<rect x="1134.7" y="774.6" width="29.8" height="15" fill="url(#gbl)"/>
<text x="1169.5" y="761.2" font-size="18.5" fill="#000" textLength="70.1" lengthAdjust="spacingAndGlyphs">Fe-N<tspan font-size="12" dy="4">4</tspan><tspan dy="-4">​</tspan>-C</text>
<text x="1169.5" y="788.4" font-size="18.5" fill="#000" textLength="105.1" lengthAdjust="spacingAndGlyphs">Fe-N<tspan font-size="12" dy="4">4</tspan><tspan dy="-4">​</tspan>-C/Fe<tspan font-size="12" dy="4">6</tspan><tspan dy="-4">​</tspan></text>
<text x="966.9" y="1035" font-size="21.5" fill="#000" textLength="74.7" lengthAdjust="spacingAndGlyphs">ΔG<tspan font-size="15" dy="6.5">OOH*</tspan><tspan dy="-6.5">​</tspan></text>
<text x="1087.6" y="1035" font-size="21.5" fill="#000" textLength="52.3" lengthAdjust="spacingAndGlyphs">ΔG<tspan font-size="15" dy="6.5">O*</tspan><tspan dy="-6.5">​</tspan></text>
<text x="1194.1" y="1035" font-size="21.5" fill="#000" textLength="63.5" lengthAdjust="spacingAndGlyphs">ΔG<tspan font-size="15" dy="6.5">OH*</tspan><tspan dy="-6.5">​</tspan></text>
<text x="0" y="0" font-size="23" fill="#000" text-anchor="middle" textLength="175" lengthAdjust="spacingAndGlyphs" transform="translate(901.2,858.4) rotate(-90)">Free energy (eV)</text>
<text x="885.9" y="722.4" font-size="33" fill="#000">i</text>
</g>
</svg>
</body></html>
